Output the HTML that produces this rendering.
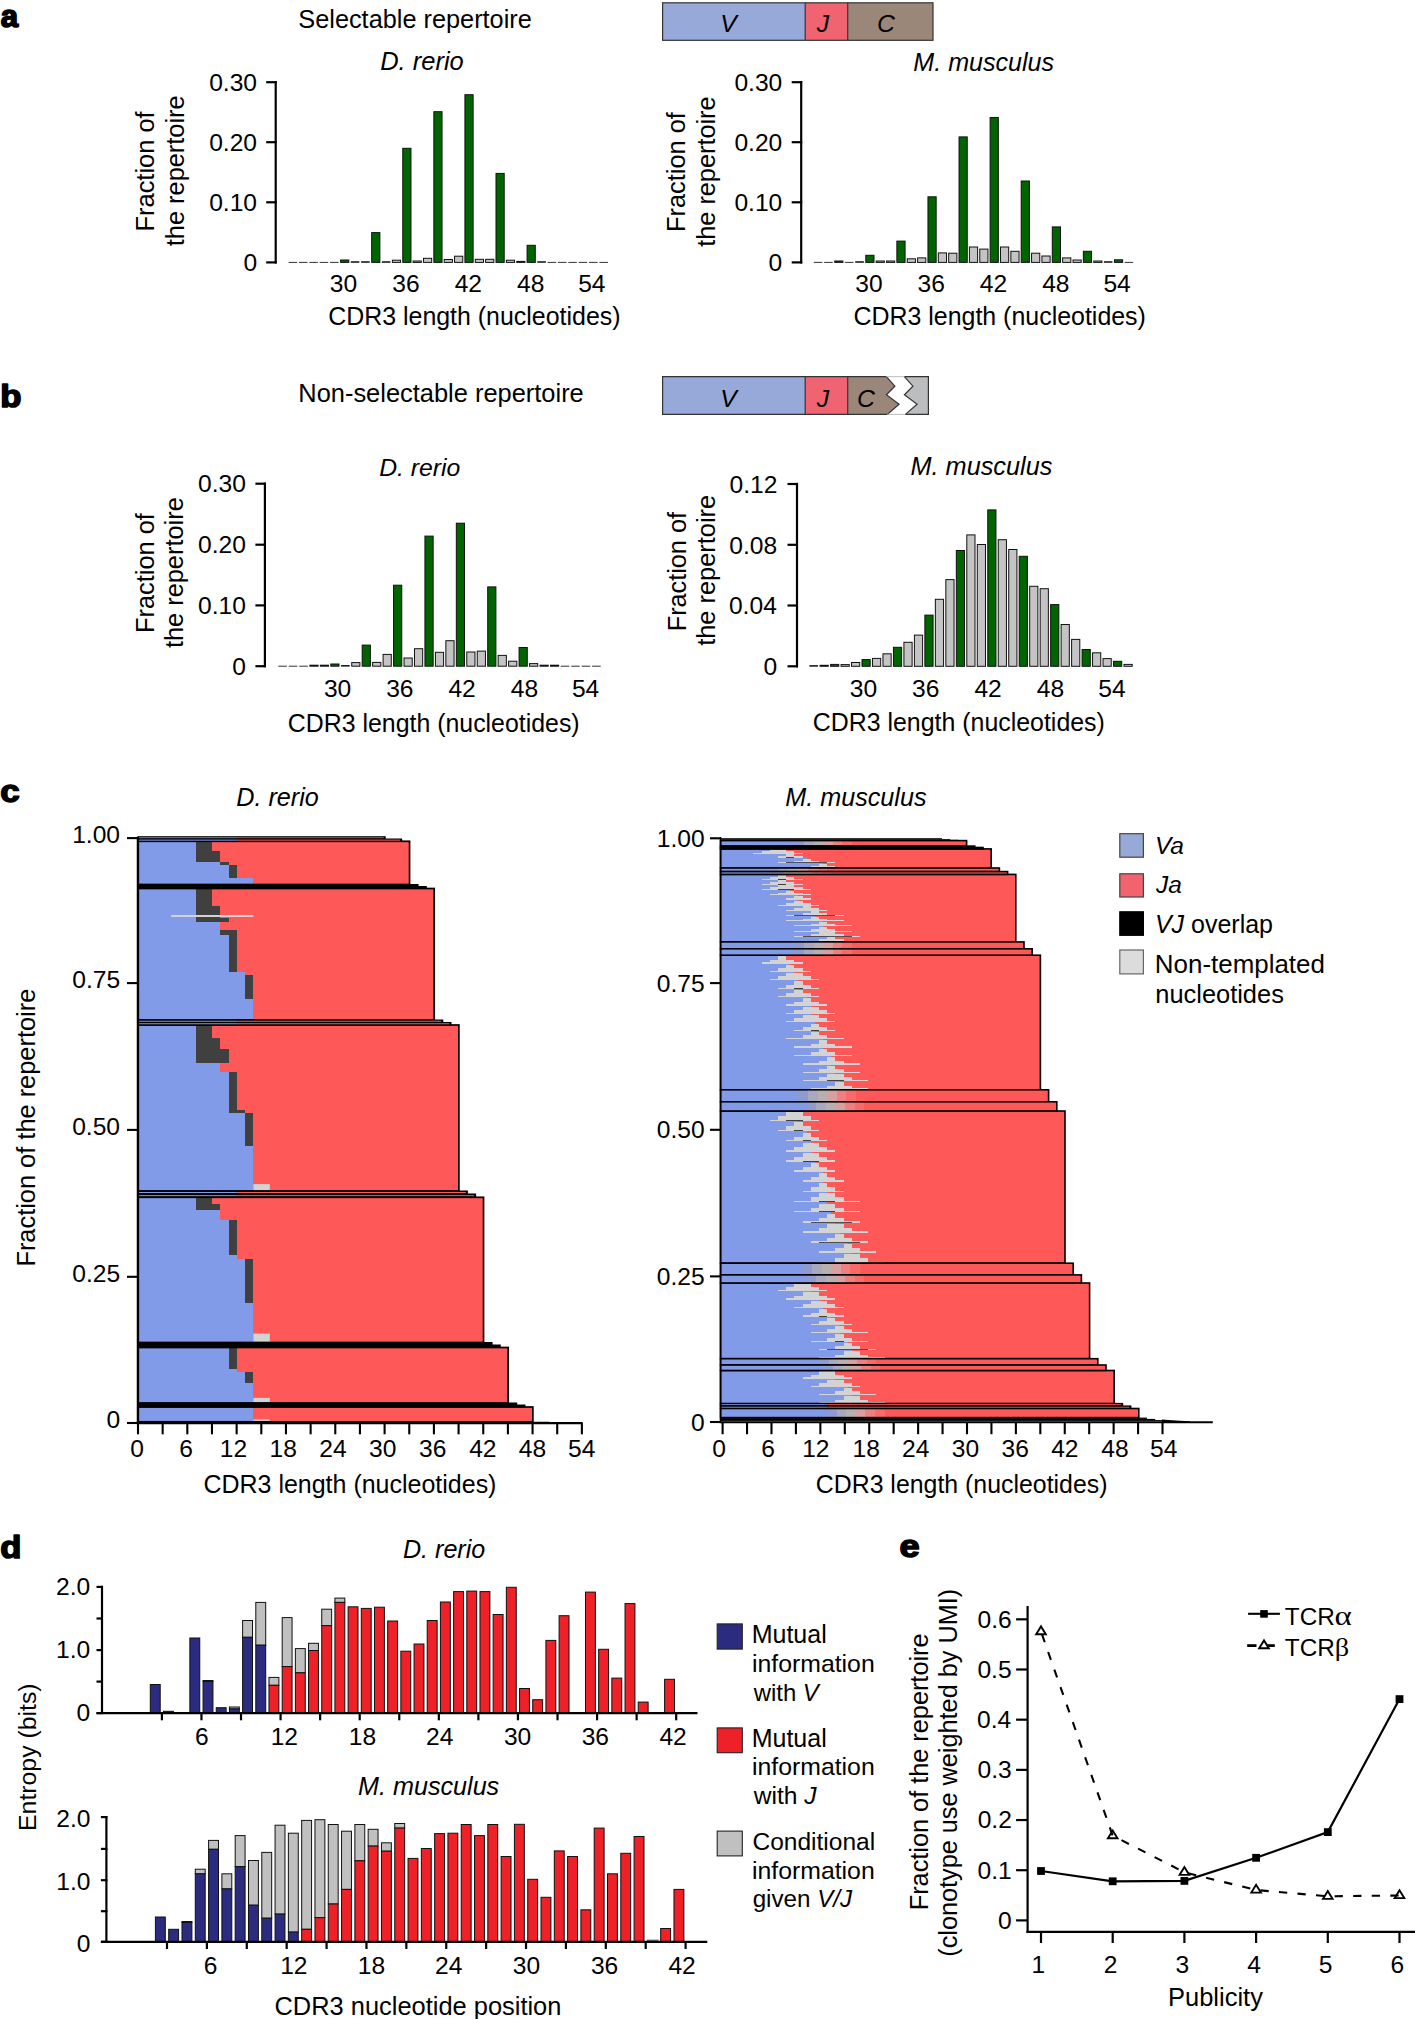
<!DOCTYPE html>
<html><head><meta charset="utf-8"><style>
html,body{margin:0;padding:0;background:#fff;width:1415px;height:2019px;overflow:hidden}
svg{display:block}
text{font-family:"Liberation Sans", sans-serif;}
</style></head><body>
<svg width="1415" height="2019" viewBox="0 0 1415 2019">
<rect x="0" y="0" width="1415" height="2019" fill="#fff"/>
<text transform="translate(0.74 27.1) scale(0.31226 0.30665)" x="0" y="0" font-size="100" font-weight="bold" font-style="normal" stroke="#000" stroke-width="5.170" stroke-linejoin="round">a</text>
<text x="298.35" y="28.2" font-size="25.3" font-weight="normal" font-style="normal" text-anchor="start" fill="#000">Selectable repertoire</text>
<rect x="662.6" y="2.8" width="142.6" height="37.5" fill="#96a9d8"/>
<rect x="805.2" y="2.8" width="42.5" height="37.5" fill="#ef6470"/>
<rect x="847.7" y="2.8" width="85.3" height="37.5" fill="#9b867a"/>
<rect x="662.6" y="2.8" width="270.4" height="37.5" fill="none" stroke="#333" stroke-width="1.2"/>
<line x1="805.2" y1="2.8" x2="805.2" y2="40.3" stroke="#333" stroke-width="1.2"/>
<line x1="847.7" y1="2.8" x2="847.7" y2="40.3" stroke="#333" stroke-width="1.2"/>
<text x="720.19" y="31.8" font-size="24.8" font-weight="normal" font-style="italic" text-anchor="start" fill="#000">V</text>
<text x="816.73" y="31.8" font-size="24.8" font-weight="normal" font-style="italic" text-anchor="start" fill="#000">J</text>
<text x="876.89" y="31.8" font-size="24.8" font-weight="normal" font-style="italic" text-anchor="start" fill="#000">C</text>
<text x="380.22" y="70.3" font-size="25.47" font-weight="normal" font-style="italic" text-anchor="start" fill="#000">D. rerio</text>
<line x1="275.7" y1="81.1" x2="275.7" y2="263.5" stroke="#000" stroke-width="2.2"/>
<line x1="266.2" y1="82.2" x2="276.7" y2="82.2" stroke="#000" stroke-width="2.2"/>
<text x="209.18" y="90.9" font-size="24.6" font-weight="normal" font-style="normal" text-anchor="start" fill="#000">0.30</text>
<line x1="266.2" y1="142.2" x2="276.7" y2="142.2" stroke="#000" stroke-width="2.2"/>
<text x="209.18" y="150.9" font-size="24.6" font-weight="normal" font-style="normal" text-anchor="start" fill="#000">0.20</text>
<line x1="266.2" y1="202.3" x2="276.7" y2="202.3" stroke="#000" stroke-width="2.2"/>
<text x="209.18" y="211" font-size="24.6" font-weight="normal" font-style="normal" text-anchor="start" fill="#000">0.10</text>
<line x1="266.2" y1="262.4" x2="276.7" y2="262.4" stroke="#000" stroke-width="2.2"/>
<text x="243.38" y="271.1" font-size="24.6" font-weight="normal" font-style="normal" text-anchor="start" fill="#000">0</text>
<line x1="288.6" y1="262.4" x2="297.2" y2="262.4" stroke="#333" stroke-width="1"/>
<line x1="298.96" y1="262.4" x2="307.56" y2="262.4" stroke="#333" stroke-width="1"/>
<line x1="309.32" y1="262.4" x2="317.92" y2="262.4" stroke="#333" stroke-width="1"/>
<line x1="319.68" y1="262.4" x2="328.28" y2="262.4" stroke="#333" stroke-width="1"/>
<line x1="330.04" y1="262.4" x2="338.64" y2="262.4" stroke="#333" stroke-width="1"/>
<rect x="340.6" y="260" width="8.2" height="2.4" fill="#006400" stroke="#111" stroke-width="1"/>
<line x1="350.76" y1="262" x2="359.36" y2="262" stroke="#1a1a1a" stroke-width="1.6"/>
<line x1="361.12" y1="262" x2="369.72" y2="262" stroke="#1a1a1a" stroke-width="1.6"/>
<rect x="371.68" y="232.6" width="8.2" height="29.8" fill="#006400" stroke="#111" stroke-width="1"/>
<line x1="381.84" y1="262" x2="390.44" y2="262" stroke="#1a1a1a" stroke-width="1.6"/>
<rect x="392.4" y="260.2" width="8.2" height="2.2" fill="#c4c4c4" stroke="#111" stroke-width="1"/>
<rect x="402.76" y="148.3" width="8.2" height="114.1" fill="#006400" stroke="#111" stroke-width="1"/>
<rect x="413.12" y="261" width="8.2" height="1.4" fill="#c4c4c4" stroke="#111" stroke-width="1"/>
<rect x="423.48" y="258.3" width="8.2" height="4.1" fill="#c4c4c4" stroke="#111" stroke-width="1"/>
<rect x="433.84" y="111.7" width="8.2" height="150.7" fill="#006400" stroke="#111" stroke-width="1"/>
<rect x="444.2" y="259.5" width="8.2" height="2.9" fill="#c4c4c4" stroke="#111" stroke-width="1"/>
<rect x="454.56" y="256.2" width="8.2" height="6.2" fill="#c4c4c4" stroke="#111" stroke-width="1"/>
<rect x="464.92" y="94.7" width="8.2" height="167.7" fill="#006400" stroke="#111" stroke-width="1"/>
<rect x="475.28" y="259.3" width="8.2" height="3.1" fill="#c4c4c4" stroke="#111" stroke-width="1"/>
<rect x="485.64" y="259.3" width="8.2" height="3.1" fill="#c4c4c4" stroke="#111" stroke-width="1"/>
<rect x="496" y="173.4" width="8.2" height="89" fill="#006400" stroke="#111" stroke-width="1"/>
<rect x="506.36" y="260.2" width="8.2" height="2.2" fill="#c4c4c4" stroke="#111" stroke-width="1"/>
<rect x="516.72" y="261.4" width="8.2" height="1" fill="#c4c4c4" stroke="#111" stroke-width="1"/>
<rect x="527.08" y="245.3" width="8.2" height="17.1" fill="#006400" stroke="#111" stroke-width="1"/>
<line x1="537.24" y1="262" x2="545.84" y2="262" stroke="#1a1a1a" stroke-width="1.6"/>
<line x1="547.6" y1="262.4" x2="556.2" y2="262.4" stroke="#333" stroke-width="1"/>
<line x1="557.96" y1="262.4" x2="566.56" y2="262.4" stroke="#333" stroke-width="1"/>
<line x1="568.32" y1="262.4" x2="576.92" y2="262.4" stroke="#333" stroke-width="1"/>
<line x1="578.68" y1="262.4" x2="587.28" y2="262.4" stroke="#333" stroke-width="1"/>
<line x1="589.04" y1="262.4" x2="597.64" y2="262.4" stroke="#333" stroke-width="1"/>
<line x1="599.4" y1="262.4" x2="608" y2="262.4" stroke="#333" stroke-width="1"/>
<text x="329.83" y="292" font-size="24.6" font-weight="normal" font-style="normal" text-anchor="start" fill="#000">30</text>
<text x="392.29" y="292" font-size="24.6" font-weight="normal" font-style="normal" text-anchor="start" fill="#000">36</text>
<text x="454.65" y="292" font-size="24.6" font-weight="normal" font-style="normal" text-anchor="start" fill="#000">42</text>
<text x="516.97" y="292" font-size="24.6" font-weight="normal" font-style="normal" text-anchor="start" fill="#000">48</text>
<text x="578.19" y="292" font-size="24.6" font-weight="normal" font-style="normal" text-anchor="start" fill="#000">54</text>
<text x="328.23" y="325" font-size="24.93" font-weight="normal" font-style="normal" text-anchor="start" fill="#000">CDR3 length (nucleotides)</text>
<text x="154.2" y="231.49" font-size="25.43" font-weight="normal" font-style="normal" text-anchor="start" fill="#000" transform="rotate(-90 154.2 231.49)">Fraction of</text>
<text x="183.6" y="246.18" font-size="25.36" font-weight="normal" font-style="normal" text-anchor="start" fill="#000" transform="rotate(-90 183.6 246.18)">the repertoire</text>
<text x="913.33" y="70.6" font-size="25.09" font-weight="normal" font-style="italic" text-anchor="start" fill="#000">M. musculus</text>
<line x1="801.2" y1="81.1" x2="801.2" y2="263.5" stroke="#000" stroke-width="2.2"/>
<line x1="791.7" y1="82.2" x2="802.2" y2="82.2" stroke="#000" stroke-width="2.2"/>
<text x="734.38" y="90.9" font-size="24.6" font-weight="normal" font-style="normal" text-anchor="start" fill="#000">0.30</text>
<line x1="791.7" y1="142.2" x2="802.2" y2="142.2" stroke="#000" stroke-width="2.2"/>
<text x="734.38" y="150.9" font-size="24.6" font-weight="normal" font-style="normal" text-anchor="start" fill="#000">0.20</text>
<line x1="791.7" y1="202.3" x2="802.2" y2="202.3" stroke="#000" stroke-width="2.2"/>
<text x="734.38" y="211" font-size="24.6" font-weight="normal" font-style="normal" text-anchor="start" fill="#000">0.10</text>
<line x1="791.7" y1="262.4" x2="802.2" y2="262.4" stroke="#000" stroke-width="2.2"/>
<text x="768.58" y="271.1" font-size="24.6" font-weight="normal" font-style="normal" text-anchor="start" fill="#000">0</text>
<line x1="813.8" y1="262.4" x2="822.4" y2="262.4" stroke="#333" stroke-width="1"/>
<line x1="824.16" y1="262.4" x2="832.76" y2="262.4" stroke="#333" stroke-width="1"/>
<rect x="834.72" y="261" width="8.2" height="1.4" fill="#006400" stroke="#111" stroke-width="1"/>
<line x1="844.88" y1="262.4" x2="853.48" y2="262.4" stroke="#333" stroke-width="1"/>
<line x1="855.24" y1="262" x2="863.84" y2="262" stroke="#1a1a1a" stroke-width="1.6"/>
<rect x="865.8" y="255.3" width="8.2" height="7.1" fill="#006400" stroke="#111" stroke-width="1"/>
<rect x="876.16" y="261" width="8.2" height="1.4" fill="#c4c4c4" stroke="#111" stroke-width="1"/>
<rect x="886.52" y="261" width="8.2" height="1.4" fill="#c4c4c4" stroke="#111" stroke-width="1"/>
<rect x="896.88" y="241.1" width="8.2" height="21.3" fill="#006400" stroke="#111" stroke-width="1"/>
<rect x="907.24" y="258.8" width="8.2" height="3.6" fill="#c4c4c4" stroke="#111" stroke-width="1"/>
<rect x="917.6" y="257.9" width="8.2" height="4.5" fill="#c4c4c4" stroke="#111" stroke-width="1"/>
<rect x="927.96" y="196.8" width="8.2" height="65.6" fill="#006400" stroke="#111" stroke-width="1"/>
<rect x="938.32" y="252.9" width="8.2" height="9.5" fill="#c4c4c4" stroke="#111" stroke-width="1"/>
<rect x="948.68" y="253.2" width="8.2" height="9.2" fill="#c4c4c4" stroke="#111" stroke-width="1"/>
<rect x="959.04" y="136.9" width="8.2" height="125.5" fill="#006400" stroke="#111" stroke-width="1"/>
<rect x="969.4" y="247" width="8.2" height="15.4" fill="#c4c4c4" stroke="#111" stroke-width="1"/>
<rect x="979.76" y="249.1" width="8.2" height="13.3" fill="#c4c4c4" stroke="#111" stroke-width="1"/>
<rect x="990.12" y="117.5" width="8.2" height="144.9" fill="#006400" stroke="#111" stroke-width="1"/>
<rect x="1000.48" y="247" width="8.2" height="15.4" fill="#c4c4c4" stroke="#111" stroke-width="1"/>
<rect x="1010.84" y="251.3" width="8.2" height="11.1" fill="#c4c4c4" stroke="#111" stroke-width="1"/>
<rect x="1021.2" y="181" width="8.2" height="81.4" fill="#006400" stroke="#111" stroke-width="1"/>
<rect x="1031.56" y="253.2" width="8.2" height="9.2" fill="#c4c4c4" stroke="#111" stroke-width="1"/>
<rect x="1041.92" y="256" width="8.2" height="6.4" fill="#c4c4c4" stroke="#111" stroke-width="1"/>
<rect x="1052.28" y="226.9" width="8.2" height="35.5" fill="#006400" stroke="#111" stroke-width="1"/>
<rect x="1062.64" y="257.9" width="8.2" height="4.5" fill="#c4c4c4" stroke="#111" stroke-width="1"/>
<rect x="1073" y="260" width="8.2" height="2.4" fill="#c4c4c4" stroke="#111" stroke-width="1"/>
<rect x="1083.36" y="251.3" width="8.2" height="11.1" fill="#006400" stroke="#111" stroke-width="1"/>
<rect x="1093.72" y="261" width="8.2" height="1.4" fill="#c4c4c4" stroke="#111" stroke-width="1"/>
<line x1="1103.88" y1="262" x2="1112.48" y2="262" stroke="#1a1a1a" stroke-width="1.6"/>
<rect x="1114.44" y="259.8" width="8.2" height="2.6" fill="#006400" stroke="#111" stroke-width="1"/>
<line x1="1124.6" y1="262.4" x2="1133.2" y2="262.4" stroke="#333" stroke-width="1"/>
<text x="855.23" y="291.5" font-size="24.6" font-weight="normal" font-style="normal" text-anchor="start" fill="#000">30</text>
<text x="917.49" y="291.5" font-size="24.6" font-weight="normal" font-style="normal" text-anchor="start" fill="#000">36</text>
<text x="979.85" y="291.5" font-size="24.6" font-weight="normal" font-style="normal" text-anchor="start" fill="#000">42</text>
<text x="1042.17" y="291.5" font-size="24.6" font-weight="normal" font-style="normal" text-anchor="start" fill="#000">48</text>
<text x="1103.39" y="291.5" font-size="24.6" font-weight="normal" font-style="normal" text-anchor="start" fill="#000">54</text>
<text x="853.43" y="325" font-size="24.94" font-weight="normal" font-style="normal" text-anchor="start" fill="#000">CDR3 length (nucleotides)</text>
<text x="684.6" y="231.88" font-size="25.33" font-weight="normal" font-style="normal" text-anchor="start" fill="#000" transform="rotate(-90 684.6 231.88)">Fraction of</text>
<text x="714.7" y="246.78" font-size="25.29" font-weight="normal" font-style="normal" text-anchor="start" fill="#000" transform="rotate(-90 714.7 246.78)">the repertoire</text>
<text transform="translate(0.21 406.59) scale(0.34729 0.31591)" x="0" y="0" font-size="100" font-weight="bold" font-style="normal" stroke="#000" stroke-width="4.825" stroke-linejoin="round">b</text>
<text x="298.31" y="401.7" font-size="25.43" font-weight="normal" font-style="normal" text-anchor="start" fill="#000">Non-selectable repertoire</text>
<rect x="662.6" y="376.7" width="142.6" height="37.7" fill="#96a9d8"/>
<rect x="805.2" y="376.7" width="42.5" height="37.7" fill="#ef6470"/>
<polygon points="847.7,376.7 886.4,376.7 894.9,386.12 886.4,394.8 899.1,404.22 887.4,414.4 847.7,414.4" fill="#9b867a"/>
<polygon points="904.4,376.7 912.9,386.12 904.4,394.8 917.1,404.22 905.4,414.4 928.4,414.4 928.4,376.7" fill="#bcbdbf"/>
<polyline points="886.4,376.7 662.6,376.7 662.6,414.4 887.4,414.4" fill="none" stroke="#333" stroke-width="1.2"/>
<polyline points="886.4,376.7 894.9,386.12 886.4,394.8 899.1,404.22 887.4,414.4" fill="none" stroke="#333" stroke-width="1.2"/>
<polyline points="904.4,376.7 928.4,376.7 928.4,414.4 905.4,414.4" fill="none" stroke="#333" stroke-width="1.2"/>
<polyline points="904.4,376.7 912.9,386.12 904.4,394.8 917.1,404.22 905.4,414.4" fill="none" stroke="#333" stroke-width="1.2"/>
<line x1="886.4" y1="376.7" x2="904.4" y2="376.7" stroke="#bbb" stroke-width="1"/>
<line x1="887.4" y1="414.4" x2="905.4" y2="414.4" stroke="#bbb" stroke-width="1"/>
<line x1="805.2" y1="376.7" x2="805.2" y2="414.4" stroke="#333" stroke-width="1.2"/>
<line x1="847.7" y1="376.7" x2="847.7" y2="414.4" stroke="#333" stroke-width="1.2"/>
<text x="720.19" y="406.5" font-size="24.8" font-weight="normal" font-style="italic" text-anchor="start" fill="#000">V</text>
<text x="816.73" y="406.5" font-size="24.8" font-weight="normal" font-style="italic" text-anchor="start" fill="#000">J</text>
<text x="857.09" y="406.5" font-size="24.8" font-weight="normal" font-style="italic" text-anchor="start" fill="#000">C</text>
<text x="379.24" y="475.9" font-size="24.75" font-weight="normal" font-style="italic" text-anchor="start" fill="#000">D. rerio</text>
<line x1="264.9" y1="482.6" x2="264.9" y2="667.3" stroke="#000" stroke-width="2.2"/>
<line x1="255.4" y1="483.7" x2="265.9" y2="483.7" stroke="#000" stroke-width="2.2"/>
<text x="197.98" y="492.4" font-size="24.6" font-weight="normal" font-style="normal" text-anchor="start" fill="#000">0.30</text>
<line x1="255.4" y1="544.7" x2="265.9" y2="544.7" stroke="#000" stroke-width="2.2"/>
<text x="197.98" y="553.4" font-size="24.6" font-weight="normal" font-style="normal" text-anchor="start" fill="#000">0.20</text>
<line x1="255.4" y1="605.4" x2="265.9" y2="605.4" stroke="#000" stroke-width="2.2"/>
<text x="197.98" y="614.1" font-size="24.6" font-weight="normal" font-style="normal" text-anchor="start" fill="#000">0.10</text>
<line x1="255.4" y1="666.2" x2="265.9" y2="666.2" stroke="#000" stroke-width="2.2"/>
<text x="232.18" y="674.9" font-size="24.6" font-weight="normal" font-style="normal" text-anchor="start" fill="#000">0</text>
<line x1="278.3" y1="666.2" x2="286.9" y2="666.2" stroke="#333" stroke-width="1"/>
<line x1="288.76" y1="666.2" x2="297.36" y2="666.2" stroke="#333" stroke-width="1"/>
<line x1="299.22" y1="666.2" x2="307.82" y2="666.2" stroke="#333" stroke-width="1"/>
<rect x="309.88" y="665.2" width="8.2" height="1" fill="#c4c4c4" stroke="#111" stroke-width="1"/>
<rect x="320.34" y="665.2" width="8.2" height="1" fill="#c4c4c4" stroke="#111" stroke-width="1"/>
<rect x="330.8" y="664" width="8.2" height="2.2" fill="#006400" stroke="#111" stroke-width="1"/>
<line x1="341.06" y1="665.8" x2="349.66" y2="665.8" stroke="#1a1a1a" stroke-width="1.6"/>
<rect x="351.72" y="662.6" width="8.2" height="3.6" fill="#c4c4c4" stroke="#111" stroke-width="1"/>
<rect x="362.18" y="645.1" width="8.2" height="21.1" fill="#006400" stroke="#111" stroke-width="1"/>
<rect x="372.64" y="662.4" width="8.2" height="3.8" fill="#c4c4c4" stroke="#111" stroke-width="1"/>
<rect x="383.1" y="654.4" width="8.2" height="11.8" fill="#c4c4c4" stroke="#111" stroke-width="1"/>
<rect x="393.56" y="585.2" width="8.2" height="81" fill="#006400" stroke="#111" stroke-width="1"/>
<rect x="404.02" y="658" width="8.2" height="8.2" fill="#c4c4c4" stroke="#111" stroke-width="1"/>
<rect x="414.48" y="648.7" width="8.2" height="17.5" fill="#c4c4c4" stroke="#111" stroke-width="1"/>
<rect x="424.94" y="536.1" width="8.2" height="130.1" fill="#006400" stroke="#111" stroke-width="1"/>
<rect x="435.4" y="652.3" width="8.2" height="13.9" fill="#c4c4c4" stroke="#111" stroke-width="1"/>
<rect x="445.86" y="640.7" width="8.2" height="25.5" fill="#c4c4c4" stroke="#111" stroke-width="1"/>
<rect x="456.32" y="523.2" width="8.2" height="143" fill="#006400" stroke="#111" stroke-width="1"/>
<rect x="466.78" y="652" width="8.2" height="14.2" fill="#c4c4c4" stroke="#111" stroke-width="1"/>
<rect x="477.24" y="651.1" width="8.2" height="15.1" fill="#c4c4c4" stroke="#111" stroke-width="1"/>
<rect x="487.7" y="586.9" width="8.2" height="79.3" fill="#006400" stroke="#111" stroke-width="1"/>
<rect x="498.16" y="655.4" width="8.2" height="10.8" fill="#c4c4c4" stroke="#111" stroke-width="1"/>
<rect x="508.62" y="661.2" width="8.2" height="5" fill="#c4c4c4" stroke="#111" stroke-width="1"/>
<rect x="519.08" y="647.5" width="8.2" height="18.7" fill="#006400" stroke="#111" stroke-width="1"/>
<rect x="529.54" y="663.6" width="8.2" height="2.6" fill="#c4c4c4" stroke="#111" stroke-width="1"/>
<rect x="540" y="665.2" width="8.2" height="1" fill="#c4c4c4" stroke="#111" stroke-width="1"/>
<rect x="550.46" y="665.2" width="8.2" height="1" fill="#006400" stroke="#111" stroke-width="1"/>
<line x1="560.72" y1="666.2" x2="569.32" y2="666.2" stroke="#333" stroke-width="1"/>
<line x1="571.18" y1="666.2" x2="579.78" y2="666.2" stroke="#333" stroke-width="1"/>
<line x1="581.64" y1="666.2" x2="590.24" y2="666.2" stroke="#333" stroke-width="1"/>
<line x1="592.1" y1="666.2" x2="600.7" y2="666.2" stroke="#333" stroke-width="1"/>
<text x="323.93" y="696.5" font-size="24.6" font-weight="normal" font-style="normal" text-anchor="start" fill="#000">30</text>
<text x="386.19" y="696.5" font-size="24.6" font-weight="normal" font-style="normal" text-anchor="start" fill="#000">36</text>
<text x="448.45" y="696.5" font-size="24.6" font-weight="normal" font-style="normal" text-anchor="start" fill="#000">42</text>
<text x="510.77" y="696.5" font-size="24.6" font-weight="normal" font-style="normal" text-anchor="start" fill="#000">48</text>
<text x="571.89" y="696.5" font-size="24.6" font-weight="normal" font-style="normal" text-anchor="start" fill="#000">54</text>
<text x="287.74" y="731.5" font-size="24.9" font-weight="normal" font-style="normal" text-anchor="start" fill="#000">CDR3 length (nucleotides)</text>
<text x="154.1" y="632.98" font-size="25.37" font-weight="normal" font-style="normal" text-anchor="start" fill="#000" transform="rotate(-90 154.1 632.98)">Fraction of</text>
<text x="183.3" y="648.08" font-size="25.37" font-weight="normal" font-style="normal" text-anchor="start" fill="#000" transform="rotate(-90 183.3 648.08)">the repertoire</text>
<text x="910.52" y="475.3" font-size="25.27" font-weight="normal" font-style="italic" text-anchor="start" fill="#000">M. musculus</text>
<line x1="797" y1="482.9" x2="797" y2="667.4" stroke="#000" stroke-width="2.2"/>
<line x1="787.5" y1="484" x2="798" y2="484" stroke="#000" stroke-width="2.2"/>
<text x="729.46" y="492.7" font-size="24.6" font-weight="normal" font-style="normal" text-anchor="start" fill="#000">0.12</text>
<line x1="787.5" y1="544.8" x2="798" y2="544.8" stroke="#000" stroke-width="2.2"/>
<text x="729.29" y="553.5" font-size="24.6" font-weight="normal" font-style="normal" text-anchor="start" fill="#000">0.08</text>
<line x1="787.5" y1="605.5" x2="798" y2="605.5" stroke="#000" stroke-width="2.2"/>
<text x="728.94" y="614.2" font-size="24.6" font-weight="normal" font-style="normal" text-anchor="start" fill="#000">0.04</text>
<line x1="787.5" y1="666.3" x2="798" y2="666.3" stroke="#000" stroke-width="2.2"/>
<text x="763.38" y="675" font-size="24.6" font-weight="normal" font-style="normal" text-anchor="start" fill="#000">0</text>
<line x1="809.4" y1="665.9" x2="818" y2="665.9" stroke="#1a1a1a" stroke-width="1.6"/>
<rect x="820.08" y="665.3" width="8.2" height="1" fill="#c4c4c4" stroke="#111" stroke-width="1"/>
<rect x="830.56" y="664.4" width="8.2" height="1.9" fill="#006400" stroke="#111" stroke-width="1"/>
<rect x="841.04" y="664.6" width="8.2" height="1.7" fill="#c4c4c4" stroke="#111" stroke-width="1"/>
<rect x="851.52" y="662.5" width="8.2" height="3.8" fill="#c4c4c4" stroke="#111" stroke-width="1"/>
<rect x="862" y="659.6" width="8.2" height="6.7" fill="#006400" stroke="#111" stroke-width="1"/>
<rect x="872.48" y="658.4" width="8.2" height="7.9" fill="#c4c4c4" stroke="#111" stroke-width="1"/>
<rect x="882.96" y="653.8" width="8.2" height="12.5" fill="#c4c4c4" stroke="#111" stroke-width="1"/>
<rect x="893.44" y="647.3" width="8.2" height="19" fill="#006400" stroke="#111" stroke-width="1"/>
<rect x="903.92" y="642.3" width="8.2" height="24" fill="#c4c4c4" stroke="#111" stroke-width="1"/>
<rect x="914.4" y="635.1" width="8.2" height="31.2" fill="#c4c4c4" stroke="#111" stroke-width="1"/>
<rect x="924.88" y="615.1" width="8.2" height="51.2" fill="#006400" stroke="#111" stroke-width="1"/>
<rect x="935.36" y="599.3" width="8.2" height="67" fill="#c4c4c4" stroke="#111" stroke-width="1"/>
<rect x="945.84" y="579.6" width="8.2" height="86.7" fill="#c4c4c4" stroke="#111" stroke-width="1"/>
<rect x="956.32" y="550.5" width="8.2" height="115.8" fill="#006400" stroke="#111" stroke-width="1"/>
<rect x="966.8" y="534.9" width="8.2" height="131.4" fill="#c4c4c4" stroke="#111" stroke-width="1"/>
<rect x="977.28" y="544.5" width="8.2" height="121.8" fill="#c4c4c4" stroke="#111" stroke-width="1"/>
<rect x="987.76" y="509.9" width="8.2" height="156.4" fill="#006400" stroke="#111" stroke-width="1"/>
<rect x="998.24" y="539.7" width="8.2" height="126.6" fill="#c4c4c4" stroke="#111" stroke-width="1"/>
<rect x="1008.72" y="549.5" width="8.2" height="116.8" fill="#c4c4c4" stroke="#111" stroke-width="1"/>
<rect x="1019.2" y="556.3" width="8.2" height="110" fill="#006400" stroke="#111" stroke-width="1"/>
<rect x="1029.68" y="586.3" width="8.2" height="80" fill="#c4c4c4" stroke="#111" stroke-width="1"/>
<rect x="1040.16" y="588.7" width="8.2" height="77.6" fill="#c4c4c4" stroke="#111" stroke-width="1"/>
<rect x="1050.64" y="604.6" width="8.2" height="61.7" fill="#006400" stroke="#111" stroke-width="1"/>
<rect x="1061.12" y="624.5" width="8.2" height="41.8" fill="#c4c4c4" stroke="#111" stroke-width="1"/>
<rect x="1071.6" y="639.4" width="8.2" height="26.9" fill="#c4c4c4" stroke="#111" stroke-width="1"/>
<rect x="1082.08" y="649.5" width="8.2" height="16.8" fill="#006400" stroke="#111" stroke-width="1"/>
<rect x="1092.56" y="652.8" width="8.2" height="13.5" fill="#c4c4c4" stroke="#111" stroke-width="1"/>
<rect x="1103.04" y="658.6" width="8.2" height="7.7" fill="#c4c4c4" stroke="#111" stroke-width="1"/>
<rect x="1113.52" y="661.3" width="8.2" height="5" fill="#006400" stroke="#111" stroke-width="1"/>
<rect x="1124" y="664.4" width="8.2" height="1.9" fill="#c4c4c4" stroke="#111" stroke-width="1"/>
<text x="849.83" y="696.6" font-size="24.6" font-weight="normal" font-style="normal" text-anchor="start" fill="#000">30</text>
<text x="912.09" y="696.6" font-size="24.6" font-weight="normal" font-style="normal" text-anchor="start" fill="#000">36</text>
<text x="974.45" y="696.6" font-size="24.6" font-weight="normal" font-style="normal" text-anchor="start" fill="#000">42</text>
<text x="1036.77" y="696.6" font-size="24.6" font-weight="normal" font-style="normal" text-anchor="start" fill="#000">48</text>
<text x="1098.29" y="696.6" font-size="24.6" font-weight="normal" font-style="normal" text-anchor="start" fill="#000">54</text>
<text x="812.74" y="731.2" font-size="24.91" font-weight="normal" font-style="normal" text-anchor="start" fill="#000">CDR3 length (nucleotides)</text>
<text x="686" y="631.27" font-size="25.24" font-weight="normal" font-style="normal" text-anchor="start" fill="#000" transform="rotate(-90 686 631.27)">Fraction of</text>
<text x="714.7" y="645.78" font-size="25.39" font-weight="normal" font-style="normal" text-anchor="start" fill="#000" transform="rotate(-90 714.7 645.78)">the repertoire</text>
<rect x="138" y="841" width="272" height="43" fill="#ff5858"/>
<rect x="138" y="841" width="58" height="10" fill="#829be8"/>
<rect x="196" y="841" width="16" height="10" fill="#404040"/>
<rect x="138" y="851" width="58" height="11" fill="#829be8"/>
<rect x="196" y="851" width="24" height="11" fill="#404040"/>
<rect x="138" y="862" width="82" height="3" fill="#829be8"/>
<rect x="220" y="862" width="9" height="3" fill="#404040"/>
<rect x="138" y="865" width="91" height="13" fill="#829be8"/>
<rect x="229" y="865" width="8" height="13" fill="#404040"/>
<rect x="138" y="878" width="115" height="6" fill="#829be8"/>
<rect x="138.3" y="841.3" width="271.26" height="43.2" fill="none" stroke="#000" stroke-width="1.7"/>
<rect x="138" y="888" width="296" height="132" fill="#ff5858"/>
<rect x="138" y="888" width="58" height="18" fill="#829be8"/>
<rect x="196" y="888" width="16" height="18" fill="#404040"/>
<rect x="138" y="906" width="58" height="12" fill="#829be8"/>
<rect x="196" y="906" width="24" height="12" fill="#404040"/>
<rect x="138" y="918" width="58" height="4" fill="#829be8"/>
<rect x="196" y="918" width="33" height="4" fill="#404040"/>
<rect x="138" y="922" width="82" height="8" fill="#829be8"/>
<rect x="138" y="930" width="82" height="5" fill="#829be8"/>
<rect x="220" y="930" width="17" height="5" fill="#404040"/>
<rect x="138" y="935" width="91" height="37" fill="#829be8"/>
<rect x="229" y="935" width="8" height="37" fill="#404040"/>
<rect x="138" y="972" width="107" height="3" fill="#829be8"/>
<rect x="138" y="975" width="107" height="24" fill="#829be8"/>
<rect x="245" y="975" width="8" height="24" fill="#404040"/>
<rect x="138" y="999" width="115" height="21" fill="#829be8"/>
<rect x="171.18" y="915" width="82.2" height="2" fill="#d3d3d3"/>
<rect x="138.3" y="888.5" width="295.92" height="131.5" fill="none" stroke="#000" stroke-width="1.7"/>
<rect x="138" y="1025" width="321" height="166" fill="#ff5858"/>
<rect x="138" y="1025" width="58" height="13" fill="#829be8"/>
<rect x="196" y="1025" width="16" height="13" fill="#404040"/>
<rect x="138" y="1038" width="58" height="11" fill="#829be8"/>
<rect x="196" y="1038" width="24" height="11" fill="#404040"/>
<rect x="138" y="1049" width="58" height="14" fill="#829be8"/>
<rect x="196" y="1049" width="33" height="14" fill="#404040"/>
<rect x="138" y="1063" width="82" height="9" fill="#829be8"/>
<rect x="138" y="1072" width="91" height="38" fill="#829be8"/>
<rect x="229" y="1072" width="8" height="38" fill="#404040"/>
<rect x="138" y="1110" width="91" height="3" fill="#829be8"/>
<rect x="229" y="1110" width="16" height="3" fill="#404040"/>
<rect x="138" y="1113" width="107" height="33" fill="#829be8"/>
<rect x="245" y="1113" width="8" height="33" fill="#404040"/>
<rect x="138" y="1146" width="115" height="45" fill="#829be8"/>
<rect x="253.38" y="1184.1" width="16.44" height="6.9" fill="#d3d3d3"/>
<rect x="138.3" y="1025" width="320.58" height="166" fill="none" stroke="#000" stroke-width="1.7"/>
<rect x="138" y="1197" width="346" height="145" fill="#ff5858"/>
<rect x="138" y="1197" width="58" height="7" fill="#829be8"/>
<rect x="196" y="1197" width="16" height="7" fill="#404040"/>
<rect x="138" y="1204" width="58" height="6" fill="#829be8"/>
<rect x="196" y="1204" width="24" height="6" fill="#404040"/>
<rect x="138" y="1210" width="82" height="10" fill="#829be8"/>
<rect x="138" y="1220" width="91" height="35" fill="#829be8"/>
<rect x="229" y="1220" width="8" height="35" fill="#404040"/>
<rect x="138" y="1255" width="99" height="4" fill="#829be8"/>
<rect x="138" y="1259" width="107" height="44" fill="#829be8"/>
<rect x="245" y="1259" width="8" height="44" fill="#404040"/>
<rect x="138" y="1303" width="115" height="39" fill="#829be8"/>
<rect x="253.38" y="1333.6" width="16.44" height="8.7" fill="#d3d3d3"/>
<rect x="138.3" y="1197.3" width="345.24" height="145.2" fill="none" stroke="#000" stroke-width="1.7"/>
<rect x="138" y="1348" width="370" height="55" fill="#ff5858"/>
<rect x="138" y="1348" width="91" height="21" fill="#829be8"/>
<rect x="229" y="1348" width="8" height="21" fill="#404040"/>
<rect x="138" y="1369" width="99" height="3" fill="#829be8"/>
<rect x="138" y="1372" width="107" height="11" fill="#829be8"/>
<rect x="245" y="1372" width="8" height="11" fill="#404040"/>
<rect x="138" y="1383" width="115" height="20" fill="#829be8"/>
<rect x="253.38" y="1397.9" width="16.44" height="4.8" fill="#d3d3d3"/>
<rect x="138.3" y="1347.5" width="369.9" height="55.5" fill="none" stroke="#000" stroke-width="1.7"/>
<rect x="138" y="1407" width="395" height="15" fill="#ff5858"/>
<rect x="138" y="1407" width="115" height="15" fill="#829be8"/>
<rect x="253.38" y="1419.5" width="16.44" height="2.3" fill="#d3d3d3"/>
<rect x="138.3" y="1407" width="394.56" height="14.8" fill="none" stroke="#000" stroke-width="1.7"/>
<rect x="137.5" y="836.2" width="248.2" height="3.3" fill="#000"/>
<rect x="139.1" y="837.35" width="97.84" height="1" fill="#829be8"/>
<rect x="236.94" y="837.35" width="146.76" height="1" fill="#ff5858"/>
<rect x="137.5" y="838.5" width="264.64" height="3.3" fill="#000"/>
<rect x="139.1" y="839.65" width="97.84" height="1" fill="#829be8"/>
<rect x="236.94" y="839.65" width="163.2" height="1" fill="#ff5858"/>
<rect x="137.5" y="884" width="281.08" height="3" fill="#000"/>
<rect x="137.5" y="886" width="289.3" height="3" fill="#000"/>
<rect x="137.5" y="1019.5" width="305.74" height="3.5" fill="#000"/>
<rect x="139.1" y="1020.75" width="97.84" height="1" fill="#829be8"/>
<rect x="236.94" y="1020.75" width="204.3" height="1" fill="#ff5858"/>
<rect x="137.5" y="1022" width="313.96" height="3.5" fill="#000"/>
<rect x="139.1" y="1023.25" width="97.84" height="1" fill="#829be8"/>
<rect x="236.94" y="1023.25" width="212.52" height="1" fill="#ff5858"/>
<rect x="137.5" y="1190.5" width="330.4" height="4" fill="#000"/>
<rect x="139.1" y="1192" width="97.84" height="1" fill="#829be8"/>
<rect x="236.94" y="1192" width="228.96" height="1" fill="#ff5858"/>
<rect x="137.5" y="1193.5" width="338.62" height="4.3" fill="#000"/>
<rect x="139.1" y="1195.15" width="97.84" height="1" fill="#829be8"/>
<rect x="236.94" y="1195.15" width="237.18" height="1" fill="#ff5858"/>
<rect x="137.5" y="1342" width="355.06" height="3.5" fill="#000"/>
<rect x="137.5" y="1344.5" width="363.28" height="3.5" fill="#000"/>
<rect x="137.5" y="1402.5" width="379.72" height="3" fill="#000"/>
<rect x="137.5" y="1404.5" width="387.94" height="3" fill="#000"/>
<line x1="138.3" y1="1422.3" x2="549.3" y2="1422.3" stroke="#000" stroke-width="1.2"/>
<line x1="137.8" y1="836.8" x2="137.8" y2="1424" stroke="#000" stroke-width="2.1"/>
<line x1="136.8" y1="1423.1" x2="582.6" y2="1423.1" stroke="#000" stroke-width="2.1"/>
<line x1="127" y1="838.1" x2="138" y2="838.1" stroke="#000" stroke-width="2.1"/>
<text x="72.18" y="843.3" font-size="24.6" font-weight="normal" font-style="normal" text-anchor="start" fill="#000">1.00</text>
<line x1="127" y1="983.1" x2="138" y2="983.1" stroke="#000" stroke-width="2.1"/>
<text x="72.25" y="988.3" font-size="24.6" font-weight="normal" font-style="normal" text-anchor="start" fill="#000">0.75</text>
<line x1="127" y1="1129.9" x2="138" y2="1129.9" stroke="#000" stroke-width="2.1"/>
<text x="72.18" y="1135.1" font-size="24.6" font-weight="normal" font-style="normal" text-anchor="start" fill="#000">0.50</text>
<line x1="127" y1="1276.8" x2="138" y2="1276.8" stroke="#000" stroke-width="2.1"/>
<text x="72.25" y="1282" font-size="24.6" font-weight="normal" font-style="normal" text-anchor="start" fill="#000">0.25</text>
<line x1="127" y1="1423" x2="138" y2="1423" stroke="#000" stroke-width="2.1"/>
<text x="106.38" y="1428.2" font-size="24.6" font-weight="normal" font-style="normal" text-anchor="start" fill="#000">0</text>
<line x1="138" y1="1423" x2="138" y2="1434.3" stroke="#000" stroke-width="2.1"/>
<line x1="162.66" y1="1423" x2="162.66" y2="1434.3" stroke="#000" stroke-width="2.1"/>
<line x1="187.32" y1="1423" x2="187.32" y2="1434.3" stroke="#000" stroke-width="2.1"/>
<line x1="211.98" y1="1423" x2="211.98" y2="1434.3" stroke="#000" stroke-width="2.1"/>
<line x1="236.64" y1="1423" x2="236.64" y2="1434.3" stroke="#000" stroke-width="2.1"/>
<line x1="261.3" y1="1423" x2="261.3" y2="1434.3" stroke="#000" stroke-width="2.1"/>
<line x1="285.96" y1="1423" x2="285.96" y2="1434.3" stroke="#000" stroke-width="2.1"/>
<line x1="310.62" y1="1423" x2="310.62" y2="1434.3" stroke="#000" stroke-width="2.1"/>
<line x1="335.28" y1="1423" x2="335.28" y2="1434.3" stroke="#000" stroke-width="2.1"/>
<line x1="359.94" y1="1423" x2="359.94" y2="1434.3" stroke="#000" stroke-width="2.1"/>
<line x1="384.6" y1="1423" x2="384.6" y2="1434.3" stroke="#000" stroke-width="2.1"/>
<line x1="409.26" y1="1423" x2="409.26" y2="1434.3" stroke="#000" stroke-width="2.1"/>
<line x1="433.92" y1="1423" x2="433.92" y2="1434.3" stroke="#000" stroke-width="2.1"/>
<line x1="458.58" y1="1423" x2="458.58" y2="1434.3" stroke="#000" stroke-width="2.1"/>
<line x1="483.24" y1="1423" x2="483.24" y2="1434.3" stroke="#000" stroke-width="2.1"/>
<line x1="507.9" y1="1423" x2="507.9" y2="1434.3" stroke="#000" stroke-width="2.1"/>
<line x1="532.56" y1="1423" x2="532.56" y2="1434.3" stroke="#000" stroke-width="2.1"/>
<line x1="557.22" y1="1423" x2="557.22" y2="1434.3" stroke="#000" stroke-width="2.1"/>
<line x1="581.88" y1="1423" x2="581.88" y2="1434.3" stroke="#000" stroke-width="2.1"/>
<text x="130.16" y="1457.3" font-size="24.6" font-weight="normal" font-style="normal" text-anchor="start" fill="#000">0</text>
<text x="179.28" y="1457.3" font-size="24.6" font-weight="normal" font-style="normal" text-anchor="start" fill="#000">6</text>
<text x="219.8" y="1457.3" font-size="24.6" font-weight="normal" font-style="normal" text-anchor="start" fill="#000">12</text>
<text x="269.62" y="1457.3" font-size="24.6" font-weight="normal" font-style="normal" text-anchor="start" fill="#000">18</text>
<text x="319.26" y="1457.3" font-size="24.6" font-weight="normal" font-style="normal" text-anchor="start" fill="#000">24</text>
<text x="369.03" y="1457.3" font-size="24.6" font-weight="normal" font-style="normal" text-anchor="start" fill="#000">30</text>
<text x="418.99" y="1457.3" font-size="24.6" font-weight="normal" font-style="normal" text-anchor="start" fill="#000">36</text>
<text x="469.15" y="1457.3" font-size="24.6" font-weight="normal" font-style="normal" text-anchor="start" fill="#000">42</text>
<text x="518.77" y="1457.3" font-size="24.6" font-weight="normal" font-style="normal" text-anchor="start" fill="#000">48</text>
<text x="568.09" y="1457.3" font-size="24.6" font-weight="normal" font-style="normal" text-anchor="start" fill="#000">54</text>
<text x="203.43" y="1492.6" font-size="24.99" font-weight="normal" font-style="normal" text-anchor="start" fill="#000">CDR3 length (nucleotides)</text>
<text x="34.9" y="1266.58" font-size="25.39" font-weight="normal" font-style="normal" text-anchor="start" fill="#000" transform="rotate(-90 34.9 1266.58)">Fraction of the repertoire</text>
<text x="236.23" y="806" font-size="25.19" font-weight="normal" font-style="italic" text-anchor="start" fill="#000">D. rerio</text>
<text transform="translate(0.28 802.1) scale(0.34953 0.30665)" x="0" y="0" font-size="100" font-weight="bold" font-style="normal" stroke="#000" stroke-width="4.877" stroke-linejoin="round">c</text>
<rect x="721" y="841" width="73" height="5" fill="#829be8"/>
<rect x="794" y="841" width="10" height="5" fill="#8f9bd0"/>
<rect x="804" y="841" width="10" height="5" fill="#a8a8c0"/>
<rect x="814" y="841" width="10" height="5" fill="#b8b0b0"/>
<rect x="823" y="841" width="10" height="5" fill="#d8a0a0"/>
<rect x="833" y="841" width="10" height="5" fill="#f08080"/>
<rect x="842" y="841" width="10" height="5" fill="#fa6a6a"/>
<rect x="852" y="841" width="115" height="5" fill="#ff5858"/>
<rect x="720.6" y="840.6" width="246" height="5.5" fill="none" stroke="#000" stroke-width="1.6"/>
<rect x="721" y="849" width="270" height="19" fill="#ff5858"/>
<rect x="721" y="849" width="49" height="2" fill="#829be8"/>
<rect x="770" y="849" width="16" height="2" fill="#d3d3d3"/>
<rect x="721" y="851" width="41" height="2" fill="#829be8"/>
<rect x="762" y="851" width="32" height="2" fill="#d3d3d3"/>
<rect x="721" y="853" width="32" height="1" fill="#829be8"/>
<rect x="753" y="853" width="50" height="1" fill="#d3d3d3"/>
<rect x="721" y="854" width="65" height="2" fill="#829be8"/>
<rect x="786" y="854" width="8" height="2" fill="#d3d3d3"/>
<rect x="721" y="856" width="57" height="2" fill="#829be8"/>
<rect x="778" y="856" width="25" height="2" fill="#d3d3d3"/>
<rect x="786" y="857" width="8" height="1" fill="#404040"/>
<rect x="721" y="858" width="86" height="1" fill="#829be8"/>
<rect x="721" y="859" width="82" height="2" fill="#829be8"/>
<rect x="803" y="859" width="8" height="2" fill="#d3d3d3"/>
<rect x="721" y="861" width="73" height="1" fill="#829be8"/>
<rect x="794" y="861" width="25" height="1" fill="#d3d3d3"/>
<rect x="721" y="862" width="57" height="1" fill="#829be8"/>
<rect x="778" y="862" width="57" height="1" fill="#d3d3d3"/>
<rect x="786" y="862" width="41" height="1" fill="#505050"/>
<rect x="721" y="863" width="102" height="1" fill="#829be8"/>
<rect x="721" y="864" width="98" height="2" fill="#829be8"/>
<rect x="819" y="864" width="8" height="2" fill="#d3d3d3"/>
<rect x="721" y="866" width="90" height="1" fill="#829be8"/>
<rect x="811" y="866" width="24" height="1" fill="#d3d3d3"/>
<rect x="721" y="867" width="73" height="1" fill="#829be8"/>
<rect x="794" y="867" width="58" height="1" fill="#d3d3d3"/>
<rect x="720.6" y="848.9" width="270.6" height="19.1" fill="none" stroke="#000" stroke-width="1.6"/>
<rect x="721" y="874" width="295" height="68" fill="#ff5858"/>
<rect x="721" y="874" width="61" height="1" fill="#829be8"/>
<rect x="721" y="875" width="57" height="2" fill="#829be8"/>
<rect x="778" y="875" width="8" height="2" fill="#d3d3d3"/>
<rect x="721" y="877" width="49" height="2" fill="#829be8"/>
<rect x="770" y="877" width="24" height="2" fill="#d3d3d3"/>
<rect x="721" y="879" width="41" height="1" fill="#829be8"/>
<rect x="762" y="879" width="41" height="1" fill="#d3d3d3"/>
<rect x="778" y="879" width="8" height="1" fill="#404040"/>
<rect x="721" y="880" width="57" height="2" fill="#829be8"/>
<rect x="778" y="880" width="8" height="2" fill="#d3d3d3"/>
<rect x="721" y="882" width="49" height="2" fill="#829be8"/>
<rect x="770" y="882" width="24" height="2" fill="#d3d3d3"/>
<rect x="721" y="884" width="41" height="1" fill="#829be8"/>
<rect x="762" y="884" width="41" height="1" fill="#d3d3d3"/>
<rect x="778" y="884" width="8" height="1" fill="#404040"/>
<rect x="721" y="885" width="57" height="2" fill="#829be8"/>
<rect x="778" y="885" width="16" height="2" fill="#d3d3d3"/>
<rect x="721" y="887" width="49" height="2" fill="#829be8"/>
<rect x="770" y="887" width="33" height="2" fill="#d3d3d3"/>
<rect x="721" y="889" width="41" height="1" fill="#829be8"/>
<rect x="762" y="889" width="49" height="1" fill="#d3d3d3"/>
<rect x="778" y="889" width="16" height="1" fill="#404040"/>
<rect x="721" y="890" width="69" height="1" fill="#829be8"/>
<rect x="721" y="891" width="65" height="2" fill="#829be8"/>
<rect x="786" y="891" width="8" height="2" fill="#d3d3d3"/>
<rect x="721" y="893" width="57" height="1" fill="#829be8"/>
<rect x="778" y="893" width="25" height="1" fill="#d3d3d3"/>
<rect x="721" y="894" width="49" height="1" fill="#829be8"/>
<rect x="770" y="894" width="41" height="1" fill="#d3d3d3"/>
<rect x="721" y="895" width="77" height="1" fill="#829be8"/>
<rect x="721" y="896" width="73" height="2" fill="#829be8"/>
<rect x="794" y="896" width="9" height="2" fill="#d3d3d3"/>
<rect x="721" y="898" width="65" height="2" fill="#829be8"/>
<rect x="786" y="898" width="25" height="2" fill="#d3d3d3"/>
<rect x="721" y="900" width="77" height="1" fill="#829be8"/>
<rect x="721" y="901" width="73" height="2" fill="#829be8"/>
<rect x="794" y="901" width="9" height="2" fill="#d3d3d3"/>
<rect x="721" y="903" width="65" height="2" fill="#829be8"/>
<rect x="786" y="903" width="25" height="2" fill="#d3d3d3"/>
<rect x="721" y="905" width="57" height="1" fill="#829be8"/>
<rect x="778" y="905" width="41" height="1" fill="#d3d3d3"/>
<rect x="721" y="906" width="82" height="2" fill="#829be8"/>
<rect x="803" y="906" width="8" height="2" fill="#d3d3d3"/>
<rect x="721" y="908" width="73" height="2" fill="#829be8"/>
<rect x="794" y="908" width="25" height="2" fill="#d3d3d3"/>
<rect x="721" y="910" width="65" height="1" fill="#829be8"/>
<rect x="786" y="910" width="41" height="1" fill="#d3d3d3"/>
<rect x="721" y="911" width="90" height="2" fill="#829be8"/>
<rect x="811" y="911" width="8" height="2" fill="#d3d3d3"/>
<rect x="721" y="913" width="82" height="2" fill="#829be8"/>
<rect x="803" y="913" width="24" height="2" fill="#d3d3d3"/>
<rect x="721" y="915" width="65" height="1" fill="#829be8"/>
<rect x="786" y="915" width="58" height="1" fill="#d3d3d3"/>
<rect x="794" y="915" width="41" height="1" fill="#505050"/>
<rect x="721" y="916" width="94" height="1" fill="#829be8"/>
<rect x="721" y="917" width="90" height="2" fill="#829be8"/>
<rect x="811" y="917" width="8" height="2" fill="#d3d3d3"/>
<rect x="721" y="919" width="82" height="1" fill="#829be8"/>
<rect x="803" y="919" width="24" height="1" fill="#d3d3d3"/>
<rect x="721" y="920" width="65" height="1" fill="#829be8"/>
<rect x="786" y="920" width="58" height="1" fill="#d3d3d3"/>
<rect x="721" y="921" width="102" height="1" fill="#829be8"/>
<rect x="721" y="922" width="98" height="2" fill="#829be8"/>
<rect x="819" y="922" width="8" height="2" fill="#d3d3d3"/>
<rect x="721" y="924" width="90" height="1" fill="#829be8"/>
<rect x="811" y="924" width="24" height="1" fill="#d3d3d3"/>
<rect x="721" y="925" width="73" height="1" fill="#829be8"/>
<rect x="794" y="925" width="58" height="1" fill="#d3d3d3"/>
<rect x="721" y="926" width="102" height="1" fill="#829be8"/>
<rect x="721" y="927" width="98" height="2" fill="#829be8"/>
<rect x="819" y="927" width="8" height="2" fill="#d3d3d3"/>
<rect x="721" y="929" width="90" height="2" fill="#829be8"/>
<rect x="811" y="929" width="24" height="2" fill="#d3d3d3"/>
<rect x="721" y="931" width="73" height="1" fill="#829be8"/>
<rect x="794" y="931" width="58" height="1" fill="#d3d3d3"/>
<rect x="721" y="932" width="98" height="2" fill="#829be8"/>
<rect x="819" y="932" width="16" height="2" fill="#d3d3d3"/>
<rect x="721" y="934" width="90" height="2" fill="#829be8"/>
<rect x="811" y="934" width="33" height="2" fill="#d3d3d3"/>
<rect x="721" y="936" width="73" height="1" fill="#829be8"/>
<rect x="794" y="936" width="66" height="1" fill="#d3d3d3"/>
<rect x="803" y="936" width="49" height="1" fill="#505050"/>
<rect x="721" y="937" width="106" height="2" fill="#829be8"/>
<rect x="827" y="937" width="8" height="2" fill="#d3d3d3"/>
<rect x="721" y="939" width="98" height="2" fill="#829be8"/>
<rect x="819" y="939" width="25" height="2" fill="#d3d3d3"/>
<rect x="721" y="941" width="82" height="1" fill="#829be8"/>
<rect x="803" y="941" width="57" height="1" fill="#d3d3d3"/>
<rect x="720.6" y="874.4" width="295.2" height="67.5" fill="none" stroke="#000" stroke-width="1.6"/>
<rect x="721" y="955" width="319" height="135" fill="#ff5858"/>
<rect x="721" y="955" width="61" height="1" fill="#829be8"/>
<rect x="721" y="956" width="57" height="4" fill="#829be8"/>
<rect x="778" y="956" width="8" height="4" fill="#d3d3d3"/>
<rect x="721" y="960" width="49" height="2" fill="#829be8"/>
<rect x="770" y="960" width="24" height="2" fill="#d3d3d3"/>
<rect x="721" y="962" width="41" height="2" fill="#829be8"/>
<rect x="762" y="962" width="41" height="2" fill="#d3d3d3"/>
<rect x="721" y="964" width="69" height="1" fill="#829be8"/>
<rect x="721" y="965" width="65" height="3" fill="#829be8"/>
<rect x="786" y="965" width="8" height="3" fill="#d3d3d3"/>
<rect x="721" y="968" width="57" height="3" fill="#829be8"/>
<rect x="778" y="968" width="25" height="3" fill="#d3d3d3"/>
<rect x="721" y="971" width="49" height="1" fill="#829be8"/>
<rect x="770" y="971" width="41" height="1" fill="#d3d3d3"/>
<rect x="721" y="972" width="73" height="1" fill="#829be8"/>
<rect x="721" y="973" width="65" height="3" fill="#829be8"/>
<rect x="786" y="973" width="17" height="3" fill="#d3d3d3"/>
<rect x="721" y="976" width="57" height="3" fill="#829be8"/>
<rect x="778" y="976" width="33" height="3" fill="#d3d3d3"/>
<rect x="721" y="979" width="49" height="1" fill="#829be8"/>
<rect x="770" y="979" width="49" height="1" fill="#d3d3d3"/>
<rect x="721" y="980" width="77" height="1" fill="#829be8"/>
<rect x="721" y="981" width="73" height="4" fill="#829be8"/>
<rect x="794" y="981" width="9" height="4" fill="#d3d3d3"/>
<rect x="721" y="985" width="65" height="3" fill="#829be8"/>
<rect x="786" y="985" width="25" height="3" fill="#d3d3d3"/>
<rect x="721" y="988" width="57" height="1" fill="#829be8"/>
<rect x="778" y="988" width="41" height="1" fill="#d3d3d3"/>
<rect x="794" y="988" width="9" height="1" fill="#404040"/>
<rect x="721" y="989" width="77" height="1" fill="#829be8"/>
<rect x="721" y="990" width="73" height="3" fill="#829be8"/>
<rect x="794" y="990" width="9" height="3" fill="#d3d3d3"/>
<rect x="721" y="993" width="65" height="3" fill="#829be8"/>
<rect x="786" y="993" width="25" height="3" fill="#d3d3d3"/>
<rect x="721" y="996" width="57" height="1" fill="#829be8"/>
<rect x="778" y="996" width="41" height="1" fill="#d3d3d3"/>
<rect x="721" y="997" width="86" height="1" fill="#829be8"/>
<rect x="721" y="998" width="82" height="4" fill="#829be8"/>
<rect x="803" y="998" width="8" height="4" fill="#d3d3d3"/>
<rect x="721" y="1002" width="73" height="2" fill="#829be8"/>
<rect x="794" y="1002" width="25" height="2" fill="#d3d3d3"/>
<rect x="721" y="1004" width="65" height="2" fill="#829be8"/>
<rect x="786" y="1004" width="41" height="2" fill="#d3d3d3"/>
<rect x="721" y="1006" width="90" height="1" fill="#829be8"/>
<rect x="721" y="1007" width="82" height="3" fill="#829be8"/>
<rect x="803" y="1007" width="16" height="3" fill="#d3d3d3"/>
<rect x="721" y="1010" width="73" height="3" fill="#829be8"/>
<rect x="794" y="1010" width="33" height="3" fill="#d3d3d3"/>
<rect x="721" y="1013" width="65" height="1" fill="#829be8"/>
<rect x="786" y="1013" width="49" height="1" fill="#d3d3d3"/>
<rect x="721" y="1014" width="90" height="1" fill="#829be8"/>
<rect x="721" y="1015" width="82" height="3" fill="#829be8"/>
<rect x="803" y="1015" width="16" height="3" fill="#d3d3d3"/>
<rect x="721" y="1018" width="73" height="3" fill="#829be8"/>
<rect x="794" y="1018" width="33" height="3" fill="#d3d3d3"/>
<rect x="721" y="1021" width="65" height="1" fill="#829be8"/>
<rect x="786" y="1021" width="49" height="1" fill="#d3d3d3"/>
<rect x="721" y="1022" width="94" height="2" fill="#829be8"/>
<rect x="721" y="1024" width="90" height="3" fill="#829be8"/>
<rect x="811" y="1024" width="8" height="3" fill="#d3d3d3"/>
<rect x="721" y="1027" width="82" height="3" fill="#829be8"/>
<rect x="803" y="1027" width="24" height="3" fill="#d3d3d3"/>
<rect x="721" y="1030" width="73" height="1" fill="#829be8"/>
<rect x="794" y="1030" width="41" height="1" fill="#d3d3d3"/>
<rect x="811" y="1030" width="8" height="1" fill="#404040"/>
<rect x="721" y="1031" width="94" height="1" fill="#829be8"/>
<rect x="721" y="1032" width="90" height="3" fill="#829be8"/>
<rect x="811" y="1032" width="8" height="3" fill="#d3d3d3"/>
<rect x="721" y="1035" width="82" height="3" fill="#829be8"/>
<rect x="803" y="1035" width="24" height="3" fill="#d3d3d3"/>
<rect x="721" y="1038" width="65" height="1" fill="#829be8"/>
<rect x="786" y="1038" width="58" height="1" fill="#d3d3d3"/>
<rect x="721" y="1039" width="102" height="1" fill="#829be8"/>
<rect x="721" y="1040" width="98" height="4" fill="#829be8"/>
<rect x="819" y="1040" width="8" height="4" fill="#d3d3d3"/>
<rect x="721" y="1044" width="90" height="2" fill="#829be8"/>
<rect x="811" y="1044" width="24" height="2" fill="#d3d3d3"/>
<rect x="721" y="1046" width="73" height="2" fill="#829be8"/>
<rect x="794" y="1046" width="58" height="2" fill="#d3d3d3"/>
<rect x="721" y="1048" width="102" height="1" fill="#829be8"/>
<rect x="721" y="1049" width="98" height="3" fill="#829be8"/>
<rect x="819" y="1049" width="8" height="3" fill="#d3d3d3"/>
<rect x="721" y="1052" width="90" height="3" fill="#829be8"/>
<rect x="811" y="1052" width="24" height="3" fill="#d3d3d3"/>
<rect x="721" y="1055" width="73" height="1" fill="#829be8"/>
<rect x="794" y="1055" width="58" height="1" fill="#d3d3d3"/>
<rect x="721" y="1056" width="110" height="1" fill="#829be8"/>
<rect x="721" y="1057" width="106" height="4" fill="#829be8"/>
<rect x="827" y="1057" width="8" height="4" fill="#d3d3d3"/>
<rect x="721" y="1061" width="98" height="2" fill="#829be8"/>
<rect x="819" y="1061" width="25" height="2" fill="#d3d3d3"/>
<rect x="721" y="1063" width="82" height="2" fill="#829be8"/>
<rect x="803" y="1063" width="57" height="2" fill="#d3d3d3"/>
<rect x="721" y="1065" width="110" height="1" fill="#829be8"/>
<rect x="721" y="1066" width="106" height="3" fill="#829be8"/>
<rect x="827" y="1066" width="8" height="3" fill="#d3d3d3"/>
<rect x="721" y="1069" width="98" height="3" fill="#829be8"/>
<rect x="819" y="1069" width="25" height="3" fill="#d3d3d3"/>
<rect x="721" y="1072" width="82" height="1" fill="#829be8"/>
<rect x="803" y="1072" width="57" height="1" fill="#d3d3d3"/>
<rect x="721" y="1073" width="114" height="1" fill="#829be8"/>
<rect x="721" y="1074" width="106" height="3" fill="#829be8"/>
<rect x="827" y="1074" width="17" height="3" fill="#d3d3d3"/>
<rect x="721" y="1077" width="98" height="3" fill="#829be8"/>
<rect x="819" y="1077" width="33" height="3" fill="#d3d3d3"/>
<rect x="721" y="1080" width="82" height="1" fill="#829be8"/>
<rect x="803" y="1080" width="65" height="1" fill="#d3d3d3"/>
<rect x="827" y="1080" width="17" height="1" fill="#404040"/>
<rect x="721" y="1081" width="119" height="1" fill="#829be8"/>
<rect x="721" y="1082" width="114" height="4" fill="#829be8"/>
<rect x="835" y="1082" width="9" height="4" fill="#d3d3d3"/>
<rect x="721" y="1086" width="106" height="2" fill="#829be8"/>
<rect x="827" y="1086" width="25" height="2" fill="#d3d3d3"/>
<rect x="721" y="1088" width="90" height="2" fill="#829be8"/>
<rect x="811" y="1088" width="57" height="2" fill="#d3d3d3"/>
<rect x="720.6" y="955.2" width="319.8" height="134.6" fill="none" stroke="#000" stroke-width="1.6"/>
<rect x="721" y="1111" width="344" height="152" fill="#ff5858"/>
<rect x="721" y="1111" width="73" height="1" fill="#829be8"/>
<rect x="721" y="1112" width="65" height="4" fill="#829be8"/>
<rect x="786" y="1112" width="17" height="4" fill="#d3d3d3"/>
<rect x="721" y="1116" width="57" height="4" fill="#829be8"/>
<rect x="778" y="1116" width="33" height="4" fill="#d3d3d3"/>
<rect x="721" y="1120" width="49" height="1" fill="#829be8"/>
<rect x="770" y="1120" width="49" height="1" fill="#d3d3d3"/>
<rect x="786" y="1120" width="17" height="1" fill="#404040"/>
<rect x="721" y="1121" width="77" height="1" fill="#829be8"/>
<rect x="721" y="1122" width="73" height="4" fill="#829be8"/>
<rect x="794" y="1122" width="9" height="4" fill="#d3d3d3"/>
<rect x="721" y="1126" width="65" height="4" fill="#829be8"/>
<rect x="786" y="1126" width="25" height="4" fill="#d3d3d3"/>
<rect x="721" y="1130" width="57" height="1" fill="#829be8"/>
<rect x="778" y="1130" width="41" height="1" fill="#d3d3d3"/>
<rect x="794" y="1130" width="9" height="1" fill="#404040"/>
<rect x="721" y="1131" width="86" height="2" fill="#829be8"/>
<rect x="721" y="1133" width="82" height="4" fill="#829be8"/>
<rect x="803" y="1133" width="8" height="4" fill="#d3d3d3"/>
<rect x="721" y="1137" width="73" height="3" fill="#829be8"/>
<rect x="794" y="1137" width="25" height="3" fill="#d3d3d3"/>
<rect x="721" y="1140" width="65" height="1" fill="#829be8"/>
<rect x="786" y="1140" width="41" height="1" fill="#d3d3d3"/>
<rect x="803" y="1140" width="8" height="1" fill="#404040"/>
<rect x="721" y="1141" width="90" height="2" fill="#829be8"/>
<rect x="721" y="1143" width="82" height="4" fill="#829be8"/>
<rect x="803" y="1143" width="16" height="4" fill="#d3d3d3"/>
<rect x="721" y="1147" width="73" height="3" fill="#829be8"/>
<rect x="794" y="1147" width="33" height="3" fill="#d3d3d3"/>
<rect x="721" y="1150" width="65" height="2" fill="#829be8"/>
<rect x="786" y="1150" width="49" height="2" fill="#d3d3d3"/>
<rect x="721" y="1152" width="90" height="1" fill="#829be8"/>
<rect x="721" y="1153" width="82" height="4" fill="#829be8"/>
<rect x="803" y="1153" width="16" height="4" fill="#d3d3d3"/>
<rect x="721" y="1157" width="73" height="3" fill="#829be8"/>
<rect x="794" y="1157" width="33" height="3" fill="#d3d3d3"/>
<rect x="721" y="1160" width="65" height="2" fill="#829be8"/>
<rect x="786" y="1160" width="49" height="2" fill="#d3d3d3"/>
<rect x="803" y="1161" width="16" height="1" fill="#404040"/>
<rect x="721" y="1162" width="94" height="1" fill="#829be8"/>
<rect x="721" y="1163" width="90" height="4" fill="#829be8"/>
<rect x="811" y="1163" width="8" height="4" fill="#d3d3d3"/>
<rect x="721" y="1167" width="82" height="3" fill="#829be8"/>
<rect x="803" y="1167" width="24" height="3" fill="#d3d3d3"/>
<rect x="721" y="1170" width="73" height="2" fill="#829be8"/>
<rect x="794" y="1170" width="41" height="2" fill="#d3d3d3"/>
<rect x="721" y="1172" width="102" height="1" fill="#829be8"/>
<rect x="721" y="1173" width="98" height="4" fill="#829be8"/>
<rect x="819" y="1173" width="8" height="4" fill="#d3d3d3"/>
<rect x="721" y="1177" width="90" height="3" fill="#829be8"/>
<rect x="811" y="1177" width="24" height="3" fill="#d3d3d3"/>
<rect x="721" y="1180" width="82" height="2" fill="#829be8"/>
<rect x="803" y="1180" width="41" height="2" fill="#d3d3d3"/>
<rect x="721" y="1182" width="102" height="1" fill="#829be8"/>
<rect x="721" y="1183" width="98" height="4" fill="#829be8"/>
<rect x="819" y="1183" width="8" height="4" fill="#d3d3d3"/>
<rect x="721" y="1187" width="90" height="4" fill="#829be8"/>
<rect x="811" y="1187" width="24" height="4" fill="#d3d3d3"/>
<rect x="721" y="1191" width="82" height="1" fill="#829be8"/>
<rect x="803" y="1191" width="41" height="1" fill="#d3d3d3"/>
<rect x="721" y="1192" width="106" height="1" fill="#829be8"/>
<rect x="721" y="1193" width="98" height="4" fill="#829be8"/>
<rect x="819" y="1193" width="16" height="4" fill="#d3d3d3"/>
<rect x="721" y="1197" width="90" height="4" fill="#829be8"/>
<rect x="811" y="1197" width="33" height="4" fill="#d3d3d3"/>
<rect x="721" y="1201" width="73" height="1" fill="#829be8"/>
<rect x="794" y="1201" width="66" height="1" fill="#d3d3d3"/>
<rect x="819" y="1201" width="16" height="1" fill="#404040"/>
<rect x="721" y="1202" width="106" height="2" fill="#829be8"/>
<rect x="721" y="1204" width="98" height="4" fill="#829be8"/>
<rect x="819" y="1204" width="16" height="4" fill="#d3d3d3"/>
<rect x="721" y="1208" width="90" height="3" fill="#829be8"/>
<rect x="811" y="1208" width="33" height="3" fill="#d3d3d3"/>
<rect x="721" y="1211" width="73" height="1" fill="#829be8"/>
<rect x="794" y="1211" width="66" height="1" fill="#d3d3d3"/>
<rect x="819" y="1211" width="16" height="1" fill="#404040"/>
<rect x="721" y="1212" width="110" height="2" fill="#829be8"/>
<rect x="721" y="1214" width="106" height="4" fill="#829be8"/>
<rect x="827" y="1214" width="8" height="4" fill="#d3d3d3"/>
<rect x="721" y="1218" width="98" height="3" fill="#829be8"/>
<rect x="819" y="1218" width="25" height="3" fill="#d3d3d3"/>
<rect x="721" y="1221" width="82" height="2" fill="#829be8"/>
<rect x="803" y="1221" width="57" height="2" fill="#d3d3d3"/>
<rect x="811" y="1222" width="41" height="1" fill="#505050"/>
<rect x="721" y="1223" width="114" height="1" fill="#829be8"/>
<rect x="721" y="1224" width="106" height="4" fill="#829be8"/>
<rect x="827" y="1224" width="17" height="4" fill="#d3d3d3"/>
<rect x="721" y="1228" width="98" height="3" fill="#829be8"/>
<rect x="819" y="1228" width="33" height="3" fill="#d3d3d3"/>
<rect x="721" y="1231" width="82" height="2" fill="#829be8"/>
<rect x="803" y="1231" width="65" height="2" fill="#d3d3d3"/>
<rect x="721" y="1233" width="119" height="1" fill="#829be8"/>
<rect x="721" y="1234" width="114" height="4" fill="#829be8"/>
<rect x="835" y="1234" width="9" height="4" fill="#d3d3d3"/>
<rect x="721" y="1238" width="106" height="3" fill="#829be8"/>
<rect x="827" y="1238" width="25" height="3" fill="#d3d3d3"/>
<rect x="721" y="1241" width="90" height="2" fill="#829be8"/>
<rect x="811" y="1241" width="57" height="2" fill="#d3d3d3"/>
<rect x="819" y="1242" width="41" height="1" fill="#505050"/>
<rect x="721" y="1243" width="127" height="1" fill="#829be8"/>
<rect x="721" y="1244" width="123" height="4" fill="#829be8"/>
<rect x="844" y="1244" width="8" height="4" fill="#d3d3d3"/>
<rect x="721" y="1248" width="114" height="3" fill="#829be8"/>
<rect x="835" y="1248" width="25" height="3" fill="#d3d3d3"/>
<rect x="721" y="1251" width="98" height="2" fill="#829be8"/>
<rect x="819" y="1251" width="57" height="2" fill="#d3d3d3"/>
<rect x="721" y="1253" width="131" height="1" fill="#829be8"/>
<rect x="721" y="1254" width="123" height="4" fill="#829be8"/>
<rect x="844" y="1254" width="16" height="4" fill="#d3d3d3"/>
<rect x="721" y="1258" width="114" height="4" fill="#829be8"/>
<rect x="835" y="1258" width="33" height="4" fill="#d3d3d3"/>
<rect x="721" y="1262" width="98" height="1" fill="#829be8"/>
<rect x="819" y="1262" width="66" height="1" fill="#d3d3d3"/>
<rect x="720.6" y="1111" width="344.4" height="152.2" fill="none" stroke="#000" stroke-width="1.6"/>
<rect x="721" y="1283" width="369" height="76" fill="#ff5858"/>
<rect x="721" y="1283" width="82" height="1" fill="#829be8"/>
<rect x="721" y="1284" width="73" height="3" fill="#829be8"/>
<rect x="794" y="1284" width="17" height="3" fill="#d3d3d3"/>
<rect x="721" y="1287" width="65" height="3" fill="#829be8"/>
<rect x="786" y="1287" width="33" height="3" fill="#d3d3d3"/>
<rect x="721" y="1290" width="57" height="1" fill="#829be8"/>
<rect x="778" y="1290" width="49" height="1" fill="#d3d3d3"/>
<rect x="721" y="1291" width="90" height="1" fill="#829be8"/>
<rect x="721" y="1292" width="82" height="4" fill="#829be8"/>
<rect x="803" y="1292" width="16" height="4" fill="#d3d3d3"/>
<rect x="721" y="1296" width="73" height="2" fill="#829be8"/>
<rect x="794" y="1296" width="33" height="2" fill="#d3d3d3"/>
<rect x="721" y="1298" width="65" height="2" fill="#829be8"/>
<rect x="786" y="1298" width="49" height="2" fill="#d3d3d3"/>
<rect x="721" y="1300" width="98" height="1" fill="#829be8"/>
<rect x="721" y="1301" width="90" height="3" fill="#829be8"/>
<rect x="811" y="1301" width="16" height="3" fill="#d3d3d3"/>
<rect x="721" y="1304" width="82" height="3" fill="#829be8"/>
<rect x="803" y="1304" width="32" height="3" fill="#d3d3d3"/>
<rect x="721" y="1307" width="73" height="1" fill="#829be8"/>
<rect x="794" y="1307" width="50" height="1" fill="#d3d3d3"/>
<rect x="721" y="1308" width="102" height="1" fill="#829be8"/>
<rect x="721" y="1309" width="98" height="4" fill="#829be8"/>
<rect x="819" y="1309" width="8" height="4" fill="#d3d3d3"/>
<rect x="721" y="1313" width="90" height="2" fill="#829be8"/>
<rect x="811" y="1313" width="24" height="2" fill="#d3d3d3"/>
<rect x="721" y="1315" width="82" height="2" fill="#829be8"/>
<rect x="803" y="1315" width="41" height="2" fill="#d3d3d3"/>
<rect x="819" y="1316" width="8" height="1" fill="#404040"/>
<rect x="721" y="1317" width="110" height="1" fill="#829be8"/>
<rect x="721" y="1318" width="106" height="3" fill="#829be8"/>
<rect x="827" y="1318" width="8" height="3" fill="#d3d3d3"/>
<rect x="721" y="1321" width="98" height="3" fill="#829be8"/>
<rect x="819" y="1321" width="25" height="3" fill="#d3d3d3"/>
<rect x="721" y="1324" width="90" height="1" fill="#829be8"/>
<rect x="811" y="1324" width="41" height="1" fill="#d3d3d3"/>
<rect x="721" y="1325" width="119" height="1" fill="#829be8"/>
<rect x="721" y="1326" width="114" height="3" fill="#829be8"/>
<rect x="835" y="1326" width="9" height="3" fill="#d3d3d3"/>
<rect x="721" y="1329" width="106" height="3" fill="#829be8"/>
<rect x="827" y="1329" width="25" height="3" fill="#d3d3d3"/>
<rect x="721" y="1332" width="90" height="1" fill="#829be8"/>
<rect x="811" y="1332" width="57" height="1" fill="#d3d3d3"/>
<rect x="721" y="1333" width="119" height="1" fill="#829be8"/>
<rect x="721" y="1334" width="114" height="4" fill="#829be8"/>
<rect x="835" y="1334" width="9" height="4" fill="#d3d3d3"/>
<rect x="721" y="1338" width="106" height="3" fill="#829be8"/>
<rect x="827" y="1338" width="25" height="3" fill="#d3d3d3"/>
<rect x="721" y="1341" width="90" height="1" fill="#829be8"/>
<rect x="811" y="1341" width="57" height="1" fill="#d3d3d3"/>
<rect x="835" y="1341" width="9" height="1" fill="#404040"/>
<rect x="721" y="1342" width="127" height="1" fill="#829be8"/>
<rect x="721" y="1343" width="123" height="3" fill="#829be8"/>
<rect x="844" y="1343" width="8" height="3" fill="#d3d3d3"/>
<rect x="721" y="1346" width="114" height="3" fill="#829be8"/>
<rect x="835" y="1346" width="25" height="3" fill="#d3d3d3"/>
<rect x="721" y="1349" width="98" height="1" fill="#829be8"/>
<rect x="819" y="1349" width="57" height="1" fill="#d3d3d3"/>
<rect x="827" y="1349" width="41" height="1" fill="#505050"/>
<rect x="721" y="1350" width="131" height="1" fill="#829be8"/>
<rect x="721" y="1351" width="123" height="4" fill="#829be8"/>
<rect x="844" y="1351" width="16" height="4" fill="#d3d3d3"/>
<rect x="721" y="1355" width="114" height="2" fill="#829be8"/>
<rect x="835" y="1355" width="33" height="2" fill="#d3d3d3"/>
<rect x="721" y="1357" width="98" height="2" fill="#829be8"/>
<rect x="819" y="1357" width="66" height="2" fill="#d3d3d3"/>
<rect x="720.6" y="1283" width="369" height="75.7" fill="none" stroke="#000" stroke-width="1.6"/>
<rect x="721" y="1370" width="393" height="34" fill="#ff5858"/>
<rect x="721" y="1370" width="106" height="1" fill="#829be8"/>
<rect x="721" y="1371" width="98" height="4" fill="#829be8"/>
<rect x="819" y="1371" width="16" height="4" fill="#d3d3d3"/>
<rect x="721" y="1375" width="90" height="2" fill="#829be8"/>
<rect x="811" y="1375" width="33" height="2" fill="#d3d3d3"/>
<rect x="721" y="1377" width="82" height="2" fill="#829be8"/>
<rect x="803" y="1377" width="49" height="2" fill="#d3d3d3"/>
<rect x="721" y="1379" width="114" height="1" fill="#829be8"/>
<rect x="721" y="1380" width="106" height="3" fill="#829be8"/>
<rect x="827" y="1380" width="17" height="3" fill="#d3d3d3"/>
<rect x="721" y="1383" width="98" height="3" fill="#829be8"/>
<rect x="819" y="1383" width="33" height="3" fill="#d3d3d3"/>
<rect x="721" y="1386" width="90" height="1" fill="#829be8"/>
<rect x="811" y="1386" width="49" height="1" fill="#d3d3d3"/>
<rect x="721" y="1387" width="127" height="1" fill="#829be8"/>
<rect x="721" y="1388" width="123" height="3" fill="#829be8"/>
<rect x="844" y="1388" width="8" height="3" fill="#d3d3d3"/>
<rect x="721" y="1391" width="114" height="3" fill="#829be8"/>
<rect x="835" y="1391" width="25" height="3" fill="#d3d3d3"/>
<rect x="721" y="1394" width="98" height="1" fill="#829be8"/>
<rect x="819" y="1394" width="57" height="1" fill="#d3d3d3"/>
<rect x="721" y="1395" width="131" height="1" fill="#829be8"/>
<rect x="721" y="1396" width="123" height="4" fill="#829be8"/>
<rect x="844" y="1396" width="16" height="4" fill="#d3d3d3"/>
<rect x="721" y="1400" width="114" height="2" fill="#829be8"/>
<rect x="835" y="1400" width="33" height="2" fill="#d3d3d3"/>
<rect x="721" y="1402" width="98" height="2" fill="#829be8"/>
<rect x="819" y="1402" width="66" height="2" fill="#d3d3d3"/>
<rect x="720.6" y="1370.5" width="393.6" height="33.1" fill="none" stroke="#000" stroke-width="1.6"/>
<rect x="721" y="1408" width="106" height="10" fill="#829be8"/>
<rect x="827" y="1408" width="10" height="10" fill="#8f9bd0"/>
<rect x="837" y="1408" width="10" height="10" fill="#a8a8c0"/>
<rect x="846" y="1408" width="10" height="10" fill="#b8b0b0"/>
<rect x="856" y="1408" width="10" height="10" fill="#d8a0a0"/>
<rect x="865" y="1408" width="11" height="10" fill="#f08080"/>
<rect x="875" y="1408" width="10" height="10" fill="#fa6a6a"/>
<rect x="885" y="1408" width="254" height="10" fill="#ff5858"/>
<rect x="720.6" y="1408.5" width="418.2" height="9.1" fill="none" stroke="#000" stroke-width="1.6"/>
<rect x="721" y="846" width="57" height="2" fill="#829be8"/>
<rect x="778" y="846" width="10" height="2" fill="#8f9bd0"/>
<rect x="788" y="846" width="10" height="2" fill="#a8a8c0"/>
<rect x="797" y="846" width="10" height="2" fill="#b8b0b0"/>
<rect x="807" y="846" width="10" height="2" fill="#d8a0a0"/>
<rect x="816" y="846" width="10" height="2" fill="#f08080"/>
<rect x="826" y="846" width="10" height="2" fill="#fa6a6a"/>
<rect x="835" y="846" width="140" height="2" fill="#ff5858"/>
<rect x="720.6" y="846.1" width="254.2" height="1.4" fill="none" stroke="#000" stroke-width="1.6"/>
<rect x="721" y="848" width="57" height="1" fill="#829be8"/>
<rect x="778" y="848" width="10" height="1" fill="#8f9bd0"/>
<rect x="788" y="848" width="10" height="1" fill="#a8a8c0"/>
<rect x="797" y="848" width="10" height="1" fill="#b8b0b0"/>
<rect x="807" y="848" width="10" height="1" fill="#d8a0a0"/>
<rect x="816" y="848" width="10" height="1" fill="#f08080"/>
<rect x="826" y="848" width="10" height="1" fill="#fa6a6a"/>
<rect x="835" y="848" width="148" height="1" fill="#ff5858"/>
<rect x="720.6" y="847.5" width="262.4" height="1.4" fill="none" stroke="#000" stroke-width="1.6"/>
<rect x="721" y="868" width="49" height="4" fill="#829be8"/>
<rect x="770" y="868" width="10" height="4" fill="#8f9bd0"/>
<rect x="779" y="868" width="10" height="4" fill="#a8a8c0"/>
<rect x="789" y="868" width="10" height="4" fill="#b8b0b0"/>
<rect x="798" y="868" width="11" height="4" fill="#d8a0a0"/>
<rect x="808" y="868" width="10" height="4" fill="#f08080"/>
<rect x="818" y="868" width="10" height="4" fill="#fa6a6a"/>
<rect x="827" y="868" width="172" height="4" fill="#ff5858"/>
<rect x="720.6" y="868" width="278.8" height="3.6" fill="none" stroke="#000" stroke-width="1.6"/>
<rect x="721" y="872" width="53" height="2" fill="#829be8"/>
<rect x="774" y="872" width="10" height="2" fill="#8f9bd0"/>
<rect x="783" y="872" width="11" height="2" fill="#a8a8c0"/>
<rect x="793" y="872" width="10" height="2" fill="#b8b0b0"/>
<rect x="803" y="872" width="10" height="2" fill="#d8a0a0"/>
<rect x="812" y="872" width="10" height="2" fill="#f08080"/>
<rect x="822" y="872" width="10" height="2" fill="#fa6a6a"/>
<rect x="831" y="872" width="177" height="2" fill="#ff5858"/>
<rect x="720.6" y="871.6" width="287" height="2.8" fill="none" stroke="#000" stroke-width="1.6"/>
<rect x="721" y="942" width="73" height="7" fill="#829be8"/>
<rect x="794" y="942" width="10" height="7" fill="#8f9bd0"/>
<rect x="804" y="942" width="10" height="7" fill="#a8a8c0"/>
<rect x="814" y="942" width="10" height="7" fill="#b8b0b0"/>
<rect x="823" y="942" width="10" height="7" fill="#d8a0a0"/>
<rect x="833" y="942" width="10" height="7" fill="#f08080"/>
<rect x="842" y="942" width="10" height="7" fill="#fa6a6a"/>
<rect x="852" y="942" width="172" height="7" fill="#ff5858"/>
<rect x="720.6" y="941.9" width="303.4" height="6.9" fill="none" stroke="#000" stroke-width="1.6"/>
<rect x="721" y="949" width="73" height="6" fill="#829be8"/>
<rect x="794" y="949" width="10" height="6" fill="#8f9bd0"/>
<rect x="804" y="949" width="10" height="6" fill="#a8a8c0"/>
<rect x="814" y="949" width="10" height="6" fill="#b8b0b0"/>
<rect x="823" y="949" width="10" height="6" fill="#d8a0a0"/>
<rect x="833" y="949" width="10" height="6" fill="#f08080"/>
<rect x="842" y="949" width="10" height="6" fill="#fa6a6a"/>
<rect x="852" y="949" width="180" height="6" fill="#ff5858"/>
<rect x="720.6" y="948.8" width="311.6" height="6.4" fill="none" stroke="#000" stroke-width="1.6"/>
<rect x="721" y="1090" width="77" height="12" fill="#829be8"/>
<rect x="798" y="1090" width="11" height="12" fill="#8f9bd0"/>
<rect x="808" y="1090" width="10" height="12" fill="#a8a8c0"/>
<rect x="818" y="1090" width="10" height="12" fill="#b8b0b0"/>
<rect x="827" y="1090" width="10" height="12" fill="#d8a0a0"/>
<rect x="837" y="1090" width="10" height="12" fill="#f08080"/>
<rect x="846" y="1090" width="10" height="12" fill="#fa6a6a"/>
<rect x="856" y="1090" width="193" height="12" fill="#ff5858"/>
<rect x="720.6" y="1089.8" width="328" height="12" fill="none" stroke="#000" stroke-width="1.6"/>
<rect x="721" y="1102" width="86" height="9" fill="#829be8"/>
<rect x="807" y="1102" width="10" height="9" fill="#8f9bd0"/>
<rect x="816" y="1102" width="10" height="9" fill="#a8a8c0"/>
<rect x="826" y="1102" width="10" height="9" fill="#b8b0b0"/>
<rect x="835" y="1102" width="10" height="9" fill="#d8a0a0"/>
<rect x="845" y="1102" width="10" height="9" fill="#f08080"/>
<rect x="855" y="1102" width="10" height="9" fill="#fa6a6a"/>
<rect x="864" y="1102" width="193" height="9" fill="#ff5858"/>
<rect x="720.6" y="1101.8" width="336.2" height="9.2" fill="none" stroke="#000" stroke-width="1.6"/>
<rect x="721" y="1263" width="82" height="12" fill="#829be8"/>
<rect x="803" y="1263" width="10" height="12" fill="#8f9bd0"/>
<rect x="812" y="1263" width="10" height="12" fill="#a8a8c0"/>
<rect x="822" y="1263" width="10" height="12" fill="#b8b0b0"/>
<rect x="831" y="1263" width="10" height="12" fill="#d8a0a0"/>
<rect x="841" y="1263" width="10" height="12" fill="#f08080"/>
<rect x="850" y="1263" width="11" height="12" fill="#fa6a6a"/>
<rect x="860" y="1263" width="213" height="12" fill="#ff5858"/>
<rect x="720.6" y="1263.2" width="352.6" height="11.7" fill="none" stroke="#000" stroke-width="1.6"/>
<rect x="721" y="1275" width="86" height="8" fill="#829be8"/>
<rect x="807" y="1275" width="10" height="8" fill="#8f9bd0"/>
<rect x="816" y="1275" width="10" height="8" fill="#a8a8c0"/>
<rect x="826" y="1275" width="10" height="8" fill="#b8b0b0"/>
<rect x="835" y="1275" width="10" height="8" fill="#d8a0a0"/>
<rect x="845" y="1275" width="10" height="8" fill="#f08080"/>
<rect x="855" y="1275" width="10" height="8" fill="#fa6a6a"/>
<rect x="864" y="1275" width="217" height="8" fill="#ff5858"/>
<rect x="720.6" y="1274.9" width="360.8" height="8.1" fill="none" stroke="#000" stroke-width="1.6"/>
<rect x="721" y="1359" width="98" height="6" fill="#829be8"/>
<rect x="819" y="1359" width="10" height="6" fill="#8f9bd0"/>
<rect x="829" y="1359" width="10" height="6" fill="#a8a8c0"/>
<rect x="838" y="1359" width="10" height="6" fill="#b8b0b0"/>
<rect x="848" y="1359" width="10" height="6" fill="#d8a0a0"/>
<rect x="857" y="1359" width="10" height="6" fill="#f08080"/>
<rect x="867" y="1359" width="10" height="6" fill="#fa6a6a"/>
<rect x="876" y="1359" width="222" height="6" fill="#ff5858"/>
<rect x="720.6" y="1358.7" width="377.2" height="6.3" fill="none" stroke="#000" stroke-width="1.6"/>
<rect x="721" y="1365" width="102" height="5" fill="#829be8"/>
<rect x="823" y="1365" width="10" height="5" fill="#8f9bd0"/>
<rect x="833" y="1365" width="10" height="5" fill="#a8a8c0"/>
<rect x="842" y="1365" width="10" height="5" fill="#b8b0b0"/>
<rect x="852" y="1365" width="10" height="5" fill="#d8a0a0"/>
<rect x="861" y="1365" width="10" height="5" fill="#f08080"/>
<rect x="871" y="1365" width="10" height="5" fill="#fa6a6a"/>
<rect x="880" y="1365" width="226" height="5" fill="#ff5858"/>
<rect x="720.6" y="1365" width="385.4" height="5.5" fill="none" stroke="#000" stroke-width="1.6"/>
<rect x="720.6" y="838.2" width="221.4" height="0.8" fill="#000"/>
<rect x="720.6" y="839" width="229.6" height="0.8" fill="#000"/>
<rect x="720.6" y="839.8" width="237.8" height="0.8" fill="#000"/>
<rect x="720.6" y="1417.6" width="426.4" height="1.3" fill="#000"/>
<rect x="720.6" y="1418.9" width="434.6" height="1.2" fill="#000"/>
<rect x="720.6" y="1420.1" width="442.8" height="1.1" fill="#000"/>
<rect x="719.8" y="1402.9" width="403.4" height="3.5" fill="#000"/>
<rect x="721.4" y="1404.2" width="105.8" height="0.9" fill="#829be8"/>
<rect x="827.2" y="1404.2" width="294" height="0.9" fill="#ff5858"/>
<rect x="719.8" y="1405.4" width="411.6" height="3.6" fill="#000"/>
<rect x="721.4" y="1406.75" width="105.8" height="0.9" fill="#829be8"/>
<rect x="827.2" y="1406.75" width="302.2" height="0.9" fill="#ff5858"/>
<polygon points="1162,1419.6 1172,1420.2 1180,1420.7 1190,1421.2 1190,1422.5 1162,1422.5" fill="#000"/>
<line x1="720.5" y1="837" x2="720.5" y2="1423" stroke="#000" stroke-width="1.6"/>
<line x1="719.7" y1="1422.3" x2="1212.8" y2="1422.3" stroke="#000" stroke-width="2"/>
<line x1="710" y1="838.3" x2="721" y2="838.3" stroke="#000" stroke-width="2.1"/>
<text x="656.78" y="846.9" font-size="24.6" font-weight="normal" font-style="normal" text-anchor="start" fill="#000">1.00</text>
<line x1="710" y1="983.1" x2="721" y2="983.1" stroke="#000" stroke-width="2.1"/>
<text x="656.85" y="991.7" font-size="24.6" font-weight="normal" font-style="normal" text-anchor="start" fill="#000">0.75</text>
<line x1="710" y1="1129.8" x2="721" y2="1129.8" stroke="#000" stroke-width="2.1"/>
<text x="656.78" y="1138.4" font-size="24.6" font-weight="normal" font-style="normal" text-anchor="start" fill="#000">0.50</text>
<line x1="710" y1="1276.4" x2="721" y2="1276.4" stroke="#000" stroke-width="2.1"/>
<text x="656.85" y="1285" font-size="24.6" font-weight="normal" font-style="normal" text-anchor="start" fill="#000">0.25</text>
<line x1="710" y1="1422" x2="721" y2="1422" stroke="#000" stroke-width="2.1"/>
<text x="690.98" y="1430.6" font-size="24.6" font-weight="normal" font-style="normal" text-anchor="start" fill="#000">0</text>
<line x1="722.6" y1="1422.5" x2="722.6" y2="1434.2" stroke="#000" stroke-width="2.1"/>
<line x1="747.04" y1="1422.5" x2="747.04" y2="1434.2" stroke="#000" stroke-width="2.1"/>
<line x1="771.48" y1="1422.5" x2="771.48" y2="1434.2" stroke="#000" stroke-width="2.1"/>
<line x1="795.92" y1="1422.5" x2="795.92" y2="1434.2" stroke="#000" stroke-width="2.1"/>
<line x1="820.36" y1="1422.5" x2="820.36" y2="1434.2" stroke="#000" stroke-width="2.1"/>
<line x1="844.8" y1="1422.5" x2="844.8" y2="1434.2" stroke="#000" stroke-width="2.1"/>
<line x1="869.24" y1="1422.5" x2="869.24" y2="1434.2" stroke="#000" stroke-width="2.1"/>
<line x1="893.68" y1="1422.5" x2="893.68" y2="1434.2" stroke="#000" stroke-width="2.1"/>
<line x1="918.12" y1="1422.5" x2="918.12" y2="1434.2" stroke="#000" stroke-width="2.1"/>
<line x1="942.56" y1="1422.5" x2="942.56" y2="1434.2" stroke="#000" stroke-width="2.1"/>
<line x1="967" y1="1422.5" x2="967" y2="1434.2" stroke="#000" stroke-width="2.1"/>
<line x1="991.44" y1="1422.5" x2="991.44" y2="1434.2" stroke="#000" stroke-width="2.1"/>
<line x1="1015.88" y1="1422.5" x2="1015.88" y2="1434.2" stroke="#000" stroke-width="2.1"/>
<line x1="1040.32" y1="1422.5" x2="1040.32" y2="1434.2" stroke="#000" stroke-width="2.1"/>
<line x1="1064.76" y1="1422.5" x2="1064.76" y2="1434.2" stroke="#000" stroke-width="2.1"/>
<line x1="1089.2" y1="1422.5" x2="1089.2" y2="1434.2" stroke="#000" stroke-width="2.1"/>
<line x1="1113.64" y1="1422.5" x2="1113.64" y2="1434.2" stroke="#000" stroke-width="2.1"/>
<line x1="1138.08" y1="1422.5" x2="1138.08" y2="1434.2" stroke="#000" stroke-width="2.1"/>
<line x1="1162.52" y1="1422.5" x2="1162.52" y2="1434.2" stroke="#000" stroke-width="2.1"/>
<text x="712.26" y="1457.3" font-size="24.6" font-weight="normal" font-style="normal" text-anchor="start" fill="#000">0</text>
<text x="761.28" y="1457.3" font-size="24.6" font-weight="normal" font-style="normal" text-anchor="start" fill="#000">6</text>
<text x="802.2" y="1457.3" font-size="24.6" font-weight="normal" font-style="normal" text-anchor="start" fill="#000">12</text>
<text x="852.62" y="1457.3" font-size="24.6" font-weight="normal" font-style="normal" text-anchor="start" fill="#000">18</text>
<text x="901.96" y="1457.3" font-size="24.6" font-weight="normal" font-style="normal" text-anchor="start" fill="#000">24</text>
<text x="951.83" y="1457.3" font-size="24.6" font-weight="normal" font-style="normal" text-anchor="start" fill="#000">30</text>
<text x="1001.59" y="1457.3" font-size="24.6" font-weight="normal" font-style="normal" text-anchor="start" fill="#000">36</text>
<text x="1051.15" y="1457.3" font-size="24.6" font-weight="normal" font-style="normal" text-anchor="start" fill="#000">42</text>
<text x="1101.27" y="1457.3" font-size="24.6" font-weight="normal" font-style="normal" text-anchor="start" fill="#000">48</text>
<text x="1150.09" y="1457.3" font-size="24.6" font-weight="normal" font-style="normal" text-anchor="start" fill="#000">54</text>
<text x="815.74" y="1492.6" font-size="24.88" font-weight="normal" font-style="normal" text-anchor="start" fill="#000">CDR3 length (nucleotides)</text>
<text x="785.23" y="806" font-size="25.18" font-weight="normal" font-style="italic" text-anchor="start" fill="#000">M. musculus</text>
<rect x="1119.8" y="833.7" width="23.6" height="23.5" fill="#97a9d6" stroke="#444" stroke-width="1.2"/>
<rect x="1119.8" y="873.8" width="23.6" height="23.2" fill="#f0636f" stroke="#444" stroke-width="1.2"/>
<rect x="1119.8" y="911.8" width="23.6" height="23.5" fill="#000" stroke="#000" stroke-width="1.2"/>
<rect x="1119.8" y="950" width="23.6" height="23.9" fill="#dcdcdc" stroke="#666" stroke-width="1.2"/>
<text x="1154.88" y="854" font-size="24.49" font-weight="normal" font-style="italic" text-anchor="start" fill="#000">Va</text>
<text x="1156.06" y="893.1" font-size="24.4" font-weight="normal" font-style="italic" text-anchor="start" fill="#000">Ja</text>
<text x="1154.89" y="932.5" font-size="25" font-weight="normal" font-style="normal" text-anchor="start" fill="#000"><tspan font-style="italic">VJ</tspan> overlap</text>
<text x="1154.87" y="972.9" font-size="25.93" font-weight="normal" font-style="normal" text-anchor="start" fill="#000">Non-templated</text>
<text x="1155.31" y="1002.8" font-size="25.42" font-weight="normal" font-style="normal" text-anchor="start" fill="#000">nucleotides</text>
<rect x="150.3" y="1684.5" width="9.9" height="28.6" fill="#2b2c7f" stroke="#111" stroke-width="1"/>
<rect x="163.49" y="1711.3" width="9.9" height="1.8" fill="#2b2c7f" stroke="#111" stroke-width="1"/>
<rect x="189.86" y="1638" width="9.9" height="75.1" fill="#2b2c7f" stroke="#111" stroke-width="1"/>
<rect x="203.05" y="1680.5" width="9.9" height="1" fill="#c0c0c0" stroke="#111" stroke-width="1"/>
<rect x="203.05" y="1681.5" width="9.9" height="31.6" fill="#2b2c7f" stroke="#111" stroke-width="1"/>
<rect x="216.24" y="1707.7" width="9.9" height="5.4" fill="#2b2c7f" stroke="#111" stroke-width="1"/>
<rect x="229.42" y="1707" width="9.9" height="1.9" fill="#c0c0c0" stroke="#111" stroke-width="1"/>
<rect x="229.42" y="1708.9" width="9.9" height="4.2" fill="#2b2c7f" stroke="#111" stroke-width="1"/>
<rect x="242.61" y="1620.5" width="9.9" height="16.8" fill="#c0c0c0" stroke="#111" stroke-width="1"/>
<rect x="242.61" y="1637.3" width="9.9" height="75.8" fill="#2b2c7f" stroke="#111" stroke-width="1"/>
<rect x="255.8" y="1602.4" width="9.9" height="42.8" fill="#c0c0c0" stroke="#111" stroke-width="1"/>
<rect x="255.8" y="1645.2" width="9.9" height="67.9" fill="#2b2c7f" stroke="#111" stroke-width="1"/>
<rect x="268.98" y="1677.4" width="9.9" height="7.9" fill="#c0c0c0" stroke="#111" stroke-width="1"/>
<rect x="268.98" y="1685.3" width="9.9" height="27.8" fill="#ed2127" stroke="#111" stroke-width="1"/>
<rect x="282.17" y="1617.6" width="9.9" height="49" fill="#c0c0c0" stroke="#111" stroke-width="1"/>
<rect x="282.17" y="1666.6" width="9.9" height="46.5" fill="#ed2127" stroke="#111" stroke-width="1"/>
<rect x="295.36" y="1648.6" width="9.9" height="24.2" fill="#c0c0c0" stroke="#111" stroke-width="1"/>
<rect x="295.36" y="1672.8" width="9.9" height="40.3" fill="#ed2127" stroke="#111" stroke-width="1"/>
<rect x="308.54" y="1643.3" width="9.9" height="7.2" fill="#c0c0c0" stroke="#111" stroke-width="1"/>
<rect x="308.54" y="1650.5" width="9.9" height="62.6" fill="#ed2127" stroke="#111" stroke-width="1"/>
<rect x="321.73" y="1609.2" width="9.9" height="16.5" fill="#c0c0c0" stroke="#111" stroke-width="1"/>
<rect x="321.73" y="1625.7" width="9.9" height="87.4" fill="#ed2127" stroke="#111" stroke-width="1"/>
<rect x="334.92" y="1598.1" width="9.9" height="4.3" fill="#c0c0c0" stroke="#111" stroke-width="1"/>
<rect x="334.92" y="1602.4" width="9.9" height="110.7" fill="#ed2127" stroke="#111" stroke-width="1"/>
<rect x="348.1" y="1606.8" width="9.9" height="106.3" fill="#ed2127" stroke="#111" stroke-width="1"/>
<rect x="361.29" y="1608.4" width="9.9" height="104.7" fill="#ed2127" stroke="#111" stroke-width="1"/>
<rect x="374.48" y="1607.2" width="9.9" height="105.9" fill="#ed2127" stroke="#111" stroke-width="1"/>
<rect x="387.67" y="1621" width="9.9" height="92.1" fill="#ed2127" stroke="#111" stroke-width="1"/>
<rect x="400.85" y="1651.2" width="9.9" height="61.9" fill="#ed2127" stroke="#111" stroke-width="1"/>
<rect x="414.04" y="1644" width="9.9" height="69.1" fill="#ed2127" stroke="#111" stroke-width="1"/>
<rect x="427.23" y="1620.5" width="9.9" height="92.6" fill="#ed2127" stroke="#111" stroke-width="1"/>
<rect x="440.41" y="1602" width="9.9" height="111.1" fill="#ed2127" stroke="#111" stroke-width="1"/>
<rect x="453.6" y="1591.6" width="9.9" height="121.5" fill="#ed2127" stroke="#111" stroke-width="1"/>
<rect x="466.79" y="1591.1" width="9.9" height="122" fill="#ed2127" stroke="#111" stroke-width="1"/>
<rect x="479.98" y="1591.6" width="9.9" height="121.5" fill="#ed2127" stroke="#111" stroke-width="1"/>
<rect x="493.16" y="1614.5" width="9.9" height="98.6" fill="#ed2127" stroke="#111" stroke-width="1"/>
<rect x="506.35" y="1587.3" width="9.9" height="125.8" fill="#ed2127" stroke="#111" stroke-width="1"/>
<rect x="519.54" y="1688.5" width="9.9" height="24.6" fill="#ed2127" stroke="#111" stroke-width="1"/>
<rect x="532.72" y="1699.7" width="9.9" height="13.4" fill="#ed2127" stroke="#111" stroke-width="1"/>
<rect x="545.91" y="1640.4" width="9.9" height="72.7" fill="#ed2127" stroke="#111" stroke-width="1"/>
<rect x="559.1" y="1615.7" width="9.9" height="97.4" fill="#ed2127" stroke="#111" stroke-width="1"/>
<rect x="585.47" y="1592.1" width="9.9" height="121" fill="#ed2127" stroke="#111" stroke-width="1"/>
<rect x="598.66" y="1649.3" width="9.9" height="63.8" fill="#ed2127" stroke="#111" stroke-width="1"/>
<rect x="611.84" y="1678.1" width="9.9" height="35" fill="#ed2127" stroke="#111" stroke-width="1"/>
<rect x="625.03" y="1603.6" width="9.9" height="109.5" fill="#ed2127" stroke="#111" stroke-width="1"/>
<rect x="638.22" y="1702.1" width="9.9" height="11" fill="#ed2127" stroke="#111" stroke-width="1"/>
<rect x="664.59" y="1679.3" width="9.9" height="33.8" fill="#ed2127" stroke="#111" stroke-width="1"/>
<line x1="102" y1="1585.8" x2="102" y2="1713.1" stroke="#000" stroke-width="2.2"/>
<line x1="96.5" y1="1713.1" x2="697.5" y2="1713.1" stroke="#000" stroke-width="2.2"/>
<line x1="96.5" y1="1586.9" x2="103" y2="1586.9" stroke="#000" stroke-width="2.2"/>
<line x1="96.5" y1="1618.5" x2="103" y2="1618.5" stroke="#000" stroke-width="2.2"/>
<line x1="96.5" y1="1650.1" x2="103" y2="1650.1" stroke="#000" stroke-width="2.2"/>
<line x1="96.5" y1="1681.6" x2="103" y2="1681.6" stroke="#000" stroke-width="2.2"/>
<line x1="96.5" y1="1713.1" x2="103" y2="1713.1" stroke="#000" stroke-width="2.2"/>
<line x1="161.9" y1="1713.1" x2="161.9" y2="1720.3" stroke="#000" stroke-width="2.2"/>
<line x1="201.46" y1="1713.1" x2="201.46" y2="1720.3" stroke="#000" stroke-width="2.2"/>
<line x1="241.02" y1="1713.1" x2="241.02" y2="1720.3" stroke="#000" stroke-width="2.2"/>
<line x1="280.58" y1="1713.1" x2="280.58" y2="1720.3" stroke="#000" stroke-width="2.2"/>
<line x1="320.14" y1="1713.1" x2="320.14" y2="1720.3" stroke="#000" stroke-width="2.2"/>
<line x1="359.7" y1="1713.1" x2="359.7" y2="1720.3" stroke="#000" stroke-width="2.2"/>
<line x1="399.27" y1="1713.1" x2="399.27" y2="1720.3" stroke="#000" stroke-width="2.2"/>
<line x1="438.83" y1="1713.1" x2="438.83" y2="1720.3" stroke="#000" stroke-width="2.2"/>
<line x1="478.39" y1="1713.1" x2="478.39" y2="1720.3" stroke="#000" stroke-width="2.2"/>
<line x1="517.95" y1="1713.1" x2="517.95" y2="1720.3" stroke="#000" stroke-width="2.2"/>
<line x1="557.51" y1="1713.1" x2="557.51" y2="1720.3" stroke="#000" stroke-width="2.2"/>
<line x1="597.07" y1="1713.1" x2="597.07" y2="1720.3" stroke="#000" stroke-width="2.2"/>
<line x1="636.63" y1="1713.1" x2="636.63" y2="1720.3" stroke="#000" stroke-width="2.2"/>
<line x1="676.19" y1="1713.1" x2="676.19" y2="1720.3" stroke="#000" stroke-width="2.2"/>
<text x="194.88" y="1745.3" font-size="24.6" font-weight="normal" font-style="normal" text-anchor="start" fill="#000">6</text>
<text x="270.7" y="1745.3" font-size="24.6" font-weight="normal" font-style="normal" text-anchor="start" fill="#000">12</text>
<text x="348.82" y="1745.3" font-size="24.6" font-weight="normal" font-style="normal" text-anchor="start" fill="#000">18</text>
<text x="426.06" y="1745.3" font-size="24.6" font-weight="normal" font-style="normal" text-anchor="start" fill="#000">24</text>
<text x="503.93" y="1745.3" font-size="24.6" font-weight="normal" font-style="normal" text-anchor="start" fill="#000">30</text>
<text x="581.69" y="1745.3" font-size="24.6" font-weight="normal" font-style="normal" text-anchor="start" fill="#000">36</text>
<text x="659.45" y="1745.3" font-size="24.6" font-weight="normal" font-style="normal" text-anchor="start" fill="#000">42</text>
<text x="56.06" y="1595.1" font-size="24.6" font-weight="normal" font-style="normal" text-anchor="start" fill="#000">2.0</text>
<text x="56.06" y="1658.3" font-size="24.6" font-weight="normal" font-style="normal" text-anchor="start" fill="#000">1.0</text>
<text x="76.58" y="1721.3" font-size="24.6" font-weight="normal" font-style="normal" text-anchor="start" fill="#000">0</text>
<rect x="155.4" y="1917" width="9.9" height="24.8" fill="#2b2c7f" stroke="#111" stroke-width="1"/>
<rect x="168.7" y="1929.3" width="9.9" height="12.5" fill="#2b2c7f" stroke="#111" stroke-width="1"/>
<rect x="181.99" y="1921.5" width="9.9" height="1" fill="#c0c0c0" stroke="#111" stroke-width="1"/>
<rect x="181.99" y="1922.5" width="9.9" height="19.3" fill="#2b2c7f" stroke="#111" stroke-width="1"/>
<rect x="195.29" y="1869.2" width="9.9" height="4.6" fill="#c0c0c0" stroke="#111" stroke-width="1"/>
<rect x="195.29" y="1873.8" width="9.9" height="68" fill="#2b2c7f" stroke="#111" stroke-width="1"/>
<rect x="208.59" y="1840.4" width="9.9" height="8.9" fill="#c0c0c0" stroke="#111" stroke-width="1"/>
<rect x="208.59" y="1849.3" width="9.9" height="92.5" fill="#2b2c7f" stroke="#111" stroke-width="1"/>
<rect x="221.89" y="1873.8" width="9.9" height="15.1" fill="#c0c0c0" stroke="#111" stroke-width="1"/>
<rect x="221.89" y="1888.9" width="9.9" height="52.9" fill="#2b2c7f" stroke="#111" stroke-width="1"/>
<rect x="235.18" y="1835.6" width="9.9" height="31" fill="#c0c0c0" stroke="#111" stroke-width="1"/>
<rect x="235.18" y="1866.6" width="9.9" height="75.2" fill="#2b2c7f" stroke="#111" stroke-width="1"/>
<rect x="248.48" y="1860.5" width="9.9" height="44.7" fill="#c0c0c0" stroke="#111" stroke-width="1"/>
<rect x="248.48" y="1905.2" width="9.9" height="36.6" fill="#2b2c7f" stroke="#111" stroke-width="1"/>
<rect x="261.78" y="1852.4" width="9.9" height="65.8" fill="#c0c0c0" stroke="#111" stroke-width="1"/>
<rect x="261.78" y="1918.2" width="9.9" height="23.6" fill="#2b2c7f" stroke="#111" stroke-width="1"/>
<rect x="275.07" y="1825.2" width="9.9" height="88.9" fill="#c0c0c0" stroke="#111" stroke-width="1"/>
<rect x="275.07" y="1914.1" width="9.9" height="27.7" fill="#2b2c7f" stroke="#111" stroke-width="1"/>
<rect x="288.37" y="1833.2" width="9.9" height="98.9" fill="#c0c0c0" stroke="#111" stroke-width="1"/>
<rect x="288.37" y="1932.1" width="9.9" height="9.7" fill="#2b2c7f" stroke="#111" stroke-width="1"/>
<rect x="301.67" y="1820.4" width="9.9" height="108.9" fill="#c0c0c0" stroke="#111" stroke-width="1"/>
<rect x="301.67" y="1929.3" width="9.9" height="12.5" fill="#ed2127" stroke="#111" stroke-width="1"/>
<rect x="314.96" y="1819.7" width="9.9" height="98" fill="#c0c0c0" stroke="#111" stroke-width="1"/>
<rect x="314.96" y="1917.7" width="9.9" height="24.1" fill="#ed2127" stroke="#111" stroke-width="1"/>
<rect x="328.26" y="1824.5" width="9.9" height="79.5" fill="#c0c0c0" stroke="#111" stroke-width="1"/>
<rect x="328.26" y="1904" width="9.9" height="37.8" fill="#ed2127" stroke="#111" stroke-width="1"/>
<rect x="341.56" y="1831.2" width="9.9" height="58.2" fill="#c0c0c0" stroke="#111" stroke-width="1"/>
<rect x="341.56" y="1889.4" width="9.9" height="52.4" fill="#ed2127" stroke="#111" stroke-width="1"/>
<rect x="354.86" y="1824.5" width="9.9" height="36.3" fill="#c0c0c0" stroke="#111" stroke-width="1"/>
<rect x="354.86" y="1860.8" width="9.9" height="81" fill="#ed2127" stroke="#111" stroke-width="1"/>
<rect x="368.15" y="1829.3" width="9.9" height="16.8" fill="#c0c0c0" stroke="#111" stroke-width="1"/>
<rect x="368.15" y="1846.1" width="9.9" height="95.7" fill="#ed2127" stroke="#111" stroke-width="1"/>
<rect x="381.45" y="1842.8" width="9.9" height="8.4" fill="#c0c0c0" stroke="#111" stroke-width="1"/>
<rect x="381.45" y="1851.2" width="9.9" height="90.6" fill="#ed2127" stroke="#111" stroke-width="1"/>
<rect x="394.75" y="1823.5" width="9.9" height="4.6" fill="#c0c0c0" stroke="#111" stroke-width="1"/>
<rect x="394.75" y="1828.1" width="9.9" height="113.7" fill="#ed2127" stroke="#111" stroke-width="1"/>
<rect x="408.04" y="1858.4" width="9.9" height="83.4" fill="#ed2127" stroke="#111" stroke-width="1"/>
<rect x="421.34" y="1848.5" width="9.9" height="93.3" fill="#ed2127" stroke="#111" stroke-width="1"/>
<rect x="434.64" y="1833.6" width="9.9" height="108.2" fill="#ed2127" stroke="#111" stroke-width="1"/>
<rect x="447.93" y="1833.2" width="9.9" height="108.6" fill="#ed2127" stroke="#111" stroke-width="1"/>
<rect x="461.23" y="1824.5" width="9.9" height="117.3" fill="#ed2127" stroke="#111" stroke-width="1"/>
<rect x="474.53" y="1835.6" width="9.9" height="106.2" fill="#ed2127" stroke="#111" stroke-width="1"/>
<rect x="487.82" y="1824.5" width="9.9" height="117.3" fill="#ed2127" stroke="#111" stroke-width="1"/>
<rect x="501.12" y="1856.5" width="9.9" height="85.3" fill="#ed2127" stroke="#111" stroke-width="1"/>
<rect x="514.42" y="1824.3" width="9.9" height="117.5" fill="#ed2127" stroke="#111" stroke-width="1"/>
<rect x="527.72" y="1879.3" width="9.9" height="62.5" fill="#ed2127" stroke="#111" stroke-width="1"/>
<rect x="541.01" y="1897.3" width="9.9" height="44.5" fill="#ed2127" stroke="#111" stroke-width="1"/>
<rect x="554.31" y="1850.9" width="9.9" height="90.9" fill="#ed2127" stroke="#111" stroke-width="1"/>
<rect x="567.61" y="1856.5" width="9.9" height="85.3" fill="#ed2127" stroke="#111" stroke-width="1"/>
<rect x="580.9" y="1909.8" width="9.9" height="32" fill="#ed2127" stroke="#111" stroke-width="1"/>
<rect x="594.2" y="1828.1" width="9.9" height="113.7" fill="#ed2127" stroke="#111" stroke-width="1"/>
<rect x="607.5" y="1873.8" width="9.9" height="68" fill="#ed2127" stroke="#111" stroke-width="1"/>
<rect x="620.79" y="1853.3" width="9.9" height="88.5" fill="#ed2127" stroke="#111" stroke-width="1"/>
<rect x="634.09" y="1836.5" width="9.9" height="105.3" fill="#ed2127" stroke="#111" stroke-width="1"/>
<rect x="660.69" y="1928.5" width="9.9" height="13.3" fill="#ed2127" stroke="#111" stroke-width="1"/>
<rect x="673.98" y="1889.4" width="9.9" height="52.4" fill="#ed2127" stroke="#111" stroke-width="1"/>
<line x1="106.4" y1="1816" x2="106.4" y2="1941.8" stroke="#000" stroke-width="2.2"/>
<line x1="100.9" y1="1941.8" x2="707.3" y2="1941.8" stroke="#000" stroke-width="2.2"/>
<line x1="100.9" y1="1817.1" x2="107.4" y2="1817.1" stroke="#000" stroke-width="2.2"/>
<line x1="100.9" y1="1848.9" x2="107.4" y2="1848.9" stroke="#000" stroke-width="2.2"/>
<line x1="100.9" y1="1880.2" x2="107.4" y2="1880.2" stroke="#000" stroke-width="2.2"/>
<line x1="100.9" y1="1911.2" x2="107.4" y2="1911.2" stroke="#000" stroke-width="2.2"/>
<line x1="100.9" y1="1941.8" x2="107.4" y2="1941.8" stroke="#000" stroke-width="2.2"/>
<line x1="167" y1="1941.8" x2="167" y2="1949" stroke="#000" stroke-width="2.2"/>
<line x1="206.89" y1="1941.8" x2="206.89" y2="1949" stroke="#000" stroke-width="2.2"/>
<line x1="246.78" y1="1941.8" x2="246.78" y2="1949" stroke="#000" stroke-width="2.2"/>
<line x1="286.67" y1="1941.8" x2="286.67" y2="1949" stroke="#000" stroke-width="2.2"/>
<line x1="326.56" y1="1941.8" x2="326.56" y2="1949" stroke="#000" stroke-width="2.2"/>
<line x1="366.46" y1="1941.8" x2="366.46" y2="1949" stroke="#000" stroke-width="2.2"/>
<line x1="406.35" y1="1941.8" x2="406.35" y2="1949" stroke="#000" stroke-width="2.2"/>
<line x1="446.24" y1="1941.8" x2="446.24" y2="1949" stroke="#000" stroke-width="2.2"/>
<line x1="486.13" y1="1941.8" x2="486.13" y2="1949" stroke="#000" stroke-width="2.2"/>
<line x1="526.02" y1="1941.8" x2="526.02" y2="1949" stroke="#000" stroke-width="2.2"/>
<line x1="565.91" y1="1941.8" x2="565.91" y2="1949" stroke="#000" stroke-width="2.2"/>
<line x1="605.8" y1="1941.8" x2="605.8" y2="1949" stroke="#000" stroke-width="2.2"/>
<line x1="645.69" y1="1941.8" x2="645.69" y2="1949" stroke="#000" stroke-width="2.2"/>
<line x1="685.58" y1="1941.8" x2="685.58" y2="1949" stroke="#000" stroke-width="2.2"/>
<text x="203.68" y="1974" font-size="24.6" font-weight="normal" font-style="normal" text-anchor="start" fill="#000">6</text>
<text x="280.2" y="1974" font-size="24.6" font-weight="normal" font-style="normal" text-anchor="start" fill="#000">12</text>
<text x="357.82" y="1974" font-size="24.6" font-weight="normal" font-style="normal" text-anchor="start" fill="#000">18</text>
<text x="434.96" y="1974" font-size="24.6" font-weight="normal" font-style="normal" text-anchor="start" fill="#000">24</text>
<text x="512.83" y="1974" font-size="24.6" font-weight="normal" font-style="normal" text-anchor="start" fill="#000">30</text>
<text x="590.89" y="1974" font-size="24.6" font-weight="normal" font-style="normal" text-anchor="start" fill="#000">36</text>
<text x="668.45" y="1974" font-size="24.6" font-weight="normal" font-style="normal" text-anchor="start" fill="#000">42</text>
<text x="56.26" y="1826.9" font-size="24.6" font-weight="normal" font-style="normal" text-anchor="start" fill="#000">2.0</text>
<text x="56.26" y="1890" font-size="24.6" font-weight="normal" font-style="normal" text-anchor="start" fill="#000">1.0</text>
<text x="76.78" y="1951.6" font-size="24.6" font-weight="normal" font-style="normal" text-anchor="start" fill="#000">0</text>
<line x1="646.8" y1="1940.3" x2="658.5" y2="1940.3" stroke="#444" stroke-width="1.2"/>
<text transform="translate(0.23 1557.59) scale(0.34629 0.31455)" x="0" y="0" font-size="100" font-weight="bold" font-style="normal" stroke="#000" stroke-width="4.842" stroke-linejoin="round">d</text>
<text x="402.93" y="1557.9" font-size="25.13" font-weight="normal" font-style="italic" text-anchor="start" fill="#000">D. rerio</text>
<text x="358.03" y="1794.6" font-size="25.16" font-weight="normal" font-style="italic" text-anchor="start" fill="#000">M. musculus</text>
<text x="274.51" y="2014.5" font-size="25.43" font-weight="normal" font-style="normal" text-anchor="start" fill="#000">CDR3 nucleotide position</text>
<text x="36.1" y="1830.94" font-size="24.82" font-weight="normal" font-style="normal" text-anchor="start" fill="#000" transform="rotate(-90 36.1 1830.94)">Entropy (bits)</text>
<rect x="717.2" y="1623.9" width="25.1" height="25.2" fill="#2b2c7f" stroke="#222" stroke-width="1.1"/>
<rect x="717.2" y="1727.9" width="25.1" height="24.8" fill="#ed2127" stroke="#222" stroke-width="1.1"/>
<rect x="717.2" y="1831.1" width="25.1" height="24.8" fill="#c0c0c0" stroke="#222" stroke-width="1.1"/>
<text x="751.65" y="1643.2" font-size="25.03" font-weight="normal" font-style="normal" text-anchor="start" fill="#000">Mutual</text>
<text x="752.04" y="1671.9" font-size="24.8" font-weight="normal" font-style="normal" text-anchor="start" fill="#000">information</text>
<text x="753.74" y="1700.5" font-size="23.9" font-weight="normal" font-style="normal" text-anchor="start" fill="#000">with <tspan font-style="italic">V</tspan></text>
<text x="751.65" y="1746.6" font-size="25.03" font-weight="normal" font-style="normal" text-anchor="start" fill="#000">Mutual</text>
<text x="752.04" y="1775.3" font-size="24.8" font-weight="normal" font-style="normal" text-anchor="start" fill="#000">information</text>
<text x="753.74" y="1803.9" font-size="24.6" font-weight="normal" font-style="normal" text-anchor="start" fill="#000">with <tspan font-style="italic">J</tspan></text>
<text x="752.45" y="1850.1" font-size="24.52" font-weight="normal" font-style="normal" text-anchor="start" fill="#000">Conditional</text>
<text x="752.04" y="1878.8" font-size="24.8" font-weight="normal" font-style="normal" text-anchor="start" fill="#000">information</text>
<text x="752.68" y="1907.4" font-size="24.2" font-weight="normal" font-style="normal" text-anchor="start" fill="#000">given <tspan font-style="italic">V/J</tspan></text>
<text transform="translate(899.58 1557.4) scale(0.36239 0.30665)" x="0" y="0" font-size="100" font-weight="bold" font-style="normal" stroke="#000" stroke-width="4.783" stroke-linejoin="round">e</text>
<line x1="1027.6" y1="1606.1" x2="1027.6" y2="1933" stroke="#000" stroke-width="2.2"/>
<line x1="1026.5" y1="1931.9" x2="1415" y2="1931.9" stroke="#000" stroke-width="2.2"/>
<line x1="1016.1" y1="1920.4" x2="1028" y2="1920.4" stroke="#000" stroke-width="2.2"/>
<text x="997.88" y="1928.7" font-size="24.6" font-weight="normal" font-style="normal" text-anchor="start" fill="#000">0</text>
<line x1="1016.1" y1="1870.22" x2="1028" y2="1870.22" stroke="#000" stroke-width="2.2"/>
<text x="977.6" y="1878.52" font-size="24.6" font-weight="normal" font-style="normal" text-anchor="start" fill="#000">0.1</text>
<line x1="1016.1" y1="1820.04" x2="1028" y2="1820.04" stroke="#000" stroke-width="2.2"/>
<text x="977.64" y="1828.34" font-size="24.6" font-weight="normal" font-style="normal" text-anchor="start" fill="#000">0.2</text>
<line x1="1016.1" y1="1769.86" x2="1028" y2="1769.86" stroke="#000" stroke-width="2.2"/>
<text x="977.48" y="1778.16" font-size="24.6" font-weight="normal" font-style="normal" text-anchor="start" fill="#000">0.3</text>
<line x1="1016.1" y1="1719.68" x2="1028" y2="1719.68" stroke="#000" stroke-width="2.2"/>
<text x="977.12" y="1727.98" font-size="24.6" font-weight="normal" font-style="normal" text-anchor="start" fill="#000">0.4</text>
<line x1="1016.1" y1="1669.5" x2="1028" y2="1669.5" stroke="#000" stroke-width="2.2"/>
<text x="977.44" y="1677.8" font-size="24.6" font-weight="normal" font-style="normal" text-anchor="start" fill="#000">0.5</text>
<line x1="1016.1" y1="1619.32" x2="1028" y2="1619.32" stroke="#000" stroke-width="2.2"/>
<text x="977.48" y="1627.62" font-size="24.6" font-weight="normal" font-style="normal" text-anchor="start" fill="#000">0.6</text>
<line x1="1041" y1="1931.9" x2="1041" y2="1943" stroke="#000" stroke-width="2.2"/>
<text x="1031.62" y="1972.7" font-size="24.6" font-weight="normal" font-style="normal" text-anchor="start" fill="#000">1</text>
<line x1="1112.7" y1="1931.9" x2="1112.7" y2="1943" stroke="#000" stroke-width="2.2"/>
<text x="1103.66" y="1972.7" font-size="24.6" font-weight="normal" font-style="normal" text-anchor="start" fill="#000">2</text>
<line x1="1184.4" y1="1931.9" x2="1184.4" y2="1943" stroke="#000" stroke-width="2.2"/>
<text x="1175.43" y="1972.7" font-size="24.6" font-weight="normal" font-style="normal" text-anchor="start" fill="#000">3</text>
<line x1="1256.1" y1="1931.9" x2="1256.1" y2="1943" stroke="#000" stroke-width="2.2"/>
<text x="1247.14" y="1972.7" font-size="24.6" font-weight="normal" font-style="normal" text-anchor="start" fill="#000">4</text>
<line x1="1327.8" y1="1931.9" x2="1327.8" y2="1943" stroke="#000" stroke-width="2.2"/>
<text x="1318.78" y="1972.7" font-size="24.6" font-weight="normal" font-style="normal" text-anchor="start" fill="#000">5</text>
<line x1="1399.5" y1="1931.9" x2="1399.5" y2="1943" stroke="#000" stroke-width="2.2"/>
<text x="1390.38" y="1972.7" font-size="24.6" font-weight="normal" font-style="normal" text-anchor="start" fill="#000">6</text>
<text x="1168.01" y="2006.1" font-size="25.5" font-weight="normal" font-style="normal" text-anchor="start" fill="#000">Publicity</text>
<text x="927.8" y="1910.27" font-size="25.29" font-weight="normal" font-style="normal" text-anchor="start" fill="#000" transform="rotate(-90 927.8 1910.27)">Fraction of the repertoire</text>
<text x="957.4" y="1956.77" font-size="25.27" font-weight="normal" font-style="normal" text-anchor="start" fill="#000" transform="rotate(-90 957.4 1956.77)">(clonotype use weighted by UMI)</text>
<polyline points="1041,1631.6 1112.7,1835.7 1184.4,1872.3 1256.1,1890 1327.8,1896.3 1399.5,1895.5" fill="none" stroke="#000" stroke-width="2.1" stroke-dasharray="8.3 10.3" stroke-dashoffset="-3"/>
<polyline points="1041,1871 1112.7,1881.3 1184.4,1880.9 1256.1,1857.8 1327.8,1832.1 1399.5,1699.1" fill="none" stroke="#000" stroke-width="2.2"/>
<rect x="1037.1" y="1867.1" width="7.8" height="7.8" fill="#000"/>
<rect x="1108.8" y="1877.4" width="7.8" height="7.8" fill="#000"/>
<rect x="1180.5" y="1877" width="7.8" height="7.8" fill="#000"/>
<rect x="1252.2" y="1853.9" width="7.8" height="7.8" fill="#000"/>
<rect x="1323.9" y="1828.2" width="7.8" height="7.8" fill="#000"/>
<rect x="1395.6" y="1695.2" width="7.8" height="7.8" fill="#000"/>
<polygon points="1036.2,1634.2 1045.8,1634.2 1041,1626.4" fill="none" stroke="#000" stroke-width="1.9"/>
<polygon points="1107.9,1838.3 1117.5,1838.3 1112.7,1830.5" fill="none" stroke="#000" stroke-width="1.9"/>
<polygon points="1179.6,1874.9 1189.2,1874.9 1184.4,1867.1" fill="none" stroke="#000" stroke-width="1.9"/>
<polygon points="1251.3,1892.6 1260.9,1892.6 1256.1,1884.8" fill="none" stroke="#000" stroke-width="1.9"/>
<polygon points="1323,1898.9 1332.6,1898.9 1327.8,1891.1" fill="none" stroke="#000" stroke-width="1.9"/>
<polygon points="1394.7,1898.1 1404.3,1898.1 1399.5,1890.3" fill="none" stroke="#000" stroke-width="1.9"/>
<line x1="1248.1" y1="1613.8" x2="1279.9" y2="1613.8" stroke="#000" stroke-width="2.1"/>
<rect x="1260.2" y="1610.1" width="7.6" height="7.6" fill="#000"/>
<text x="1284.85" y="1624.5" font-size="24.32" font-weight="normal" font-style="normal" text-anchor="start" fill="#000">TCR</text>
<text transform="translate(1334.54 1624.54) scale(0.33018 0.26587)" x="0" y="0" font-size="100" font-weight="normal" font-style="normal" style="font-family:'Liberation Serif', serif">α</text>
<line x1="1247.2" y1="1645.6" x2="1256.5" y2="1645.6" stroke="#000" stroke-width="2.8"/>
<line x1="1267.1" y1="1645.6" x2="1274.8" y2="1645.6" stroke="#000" stroke-width="2.8"/>
<polygon points="1259.2,1648.2 1268.8,1648.2 1264,1640.4" fill="none" stroke="#000" stroke-width="1.9"/>
<text x="1284.85" y="1656.1" font-size="24.32" font-weight="normal" font-style="normal" text-anchor="start" fill="#000">TCR</text>
<text transform="translate(1334.87 1656.07) scale(0.28368 0.25954)" x="0" y="0" font-size="100" font-weight="normal" font-style="normal" style="font-family:'Liberation Serif', serif">β</text>
</svg></body></html>
